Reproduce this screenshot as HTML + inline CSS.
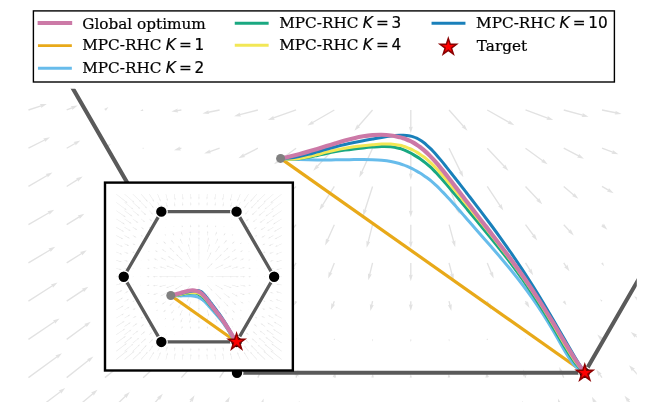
<!DOCTYPE html><html><head><meta charset="utf-8"><title>MPC-RHC trajectories</title><style>html,body{margin:0;padding:0;background:#fff}svg{display:block}text{font-family:"DejaVu Serif","Liberation Serif",serif;font-size:15.28px;fill:#000;stroke:#000;stroke-width:.22px}.m{font-family:"DejaVu Sans","Liberation Sans",sans-serif}.i{font-family:"DejaVu Sans","Liberation Sans",sans-serif;font-style:oblique}</style></head><body>
<svg width="648" height="413" viewBox="0 0 648 413">
<rect width="648" height="413" fill="#fff"/>
<defs><clipPath id="cm"><rect x="28.00" y="88.80" width="608.80" height="313.20"/></clipPath><clipPath id="ci"><rect x="105.00" y="182.60" width="187.85" height="187.90"/></clipPath></defs>
<g clip-path="url(#cm)">
<path d="M28.23 109.35L40.86 105.16L39.80 104.09L46.84 103.89L41.07 107.93L41.29 106.44L28.65 110.63ZM28.13 147.62L44.32 139.38L43.11 138.48L50.04 137.22L44.94 142.09L44.93 140.58L28.75 148.82ZM28.10 185.87L46.85 174.94L45.59 174.11L52.44 172.46L47.63 177.61L47.53 176.10L28.78 187.04ZM28.10 224.11L48.65 212.16L47.39 211.34L54.24 209.69L49.42 214.84L49.33 213.33L28.78 225.28ZM28.09 262.35L49.68 249.38L48.41 248.57L55.24 246.83L50.50 252.04L50.38 250.54L28.79 263.51ZM28.08 300.60L52.06 285.18L50.77 284.41L57.54 282.47L52.96 287.82L52.79 286.32L28.80 301.73ZM28.06 338.84L54.13 321.24L52.81 320.50L59.54 318.40L55.08 323.86L54.88 322.36L28.82 339.96ZM28.04 377.09L56.63 356.27L55.29 355.58L61.94 353.24L57.68 358.85L57.43 357.36L28.84 378.18ZM28.03 415.34L59.99 391.20L58.63 390.53L65.24 388.07L61.07 393.76L60.80 392.27L28.85 416.41ZM66.42 109.36L71.80 107.16L70.66 106.17L77.68 105.49L72.20 109.92L72.31 108.41L66.93 110.61ZM66.35 147.63L74.75 142.91L73.50 142.06L80.38 140.52L75.48 145.59L75.41 144.09L67.01 148.81ZM66.32 185.89L77.17 179.11L75.88 178.32L82.68 176.46L78.03 181.75L77.88 180.25L67.03 187.03ZM66.32 224.12L78.86 216.33L77.57 215.54L84.38 213.69L79.71 218.98L79.57 217.47L67.03 225.27ZM66.32 262.36L81.28 252.90L79.99 252.12L86.78 250.23L82.15 255.55L82.00 254.05L67.04 263.50ZM66.30 300.60L82.94 289.56L81.63 288.81L88.38 286.77L83.87 292.19L83.69 290.69L67.05 301.73ZM66.28 338.86L85.48 324.75L84.14 324.07L90.78 321.70L86.53 327.33L86.28 325.84L67.08 339.95ZM66.26 377.11L88.19 359.78L86.82 359.13L93.38 356.54L89.34 362.31L89.03 360.83L67.09 378.17ZM66.24 415.36L92.40 393.19L91.02 392.59L97.48 389.77L93.64 395.68L93.28 394.22L67.11 416.39ZM104.61 109.64L104.96 109.34L104.01 108.94L108.41 106.99L105.81 111.04L105.56 110.04L105.21 110.34ZM104.51 147.68L105.65 146.83L104.30 146.15L110.91 143.72L106.73 149.39L106.46 147.91L105.32 148.76ZM104.63 185.84L106.66 184.93L105.49 183.98L112.47 183.04L107.16 187.67L107.22 186.16L105.19 187.07ZM104.60 224.10L109.35 221.57L108.12 220.69L115.03 219.31L110.02 224.27L109.98 222.76L105.23 225.29ZM104.56 262.35L112.33 257.66L111.06 256.85L117.88 255.09L113.15 260.32L113.03 258.81L105.26 263.51ZM104.54 300.61L115.59 293.17L114.28 292.42L121.01 290.34L116.54 295.78L116.34 294.29L105.29 301.73ZM104.51 338.86L119.02 328.14L117.67 327.45L124.30 325.07L120.08 330.71L119.82 329.22L105.31 339.94ZM104.49 377.11L122.52 362.60L121.15 361.97L127.68 359.31L123.69 365.12L123.37 363.65L105.34 378.16ZM104.45 415.39L124.95 395.78L123.53 395.27L129.81 392.07L126.33 398.20L125.89 396.76L105.38 416.36ZM143.25 110.29L142.95 110.39L143.45 110.89L140.15 110.99L142.85 109.09L142.75 109.79L143.05 109.69ZM143.82 148.22L143.49 148.81L142.81 148.81L142.47 148.22L142.81 147.64L143.49 147.64ZM143.08 186.32L143.22 186.26L142.95 186.05L144.50 185.80L143.34 186.86L143.35 186.53L143.21 186.59ZM142.92 224.30L143.31 224.08L142.48 223.53L147.04 222.46L143.82 225.86L143.76 224.86L143.37 225.08ZM142.78 262.37L145.02 260.89L143.72 260.14L150.47 258.13L145.94 263.52L145.76 262.02L143.52 263.49ZM142.75 300.62L148.77 296.20L147.43 295.51L154.07 293.15L149.82 298.78L149.57 297.29L143.55 301.71ZM142.72 338.88L152.47 330.95L151.10 330.32L157.61 327.64L153.65 333.47L153.33 331.99L143.57 339.93ZM142.70 377.14L156.11 365.07L154.70 364.52L161.07 361.51L157.41 367.53L157.01 366.08L143.60 378.14ZM142.64 415.42L158.30 397.86L156.84 397.47L162.85 393.77L159.87 400.16L159.31 398.76L143.65 416.32ZM181.48 110.65L177.49 111.25L178.36 112.49L171.38 111.49L177.76 108.48L177.29 109.92L181.28 109.32ZM181.56 148.87L180.02 149.29L181.03 150.42L173.98 150.22L179.97 146.51L179.67 147.99L181.21 147.57ZM181.60 186.87L181.19 187.09L182.04 187.70L177.24 188.65L180.73 185.21L180.75 186.26L181.17 186.04ZM182.06 224.69L181.72 225.28L181.05 225.28L180.71 224.69L181.05 224.11L181.72 224.11ZM181.22 262.71L181.44 262.54L180.90 262.26L183.62 261.30L181.87 263.60L181.77 262.99L181.55 263.15ZM180.95 300.65L182.31 299.53L180.93 298.91L187.42 296.17L183.51 302.04L183.17 300.57L181.81 301.69ZM180.92 338.91L186.37 333.80L184.96 333.28L191.26 330.13L187.73 336.23L187.30 334.78L181.85 339.89ZM180.89 377.18L189.94 367.40L188.49 366.98L194.56 363.40L191.46 369.73L190.93 368.32L181.88 378.10ZM180.82 415.51L190.73 400.12L189.23 399.95L194.58 395.37L192.63 402.15L191.86 400.85L181.95 416.24ZM219.75 110.65L208.51 112.94L209.44 114.12L202.42 113.49L208.63 110.16L208.24 111.61L219.49 109.32ZM219.84 148.86L210.09 152.20L211.16 153.25L204.12 153.52L209.85 149.42L209.65 150.92L219.40 147.58ZM219.96 187.04L215.50 189.69L216.77 190.50L209.93 192.20L214.70 187.02L214.81 188.52L219.28 185.88ZM220.01 225.24L219.28 225.77L220.62 226.47L213.96 228.77L218.25 223.18L218.49 224.67L219.23 224.15ZM219.75 263.09L219.60 263.22L220.02 263.40L218.07 264.25L219.22 262.46L219.33 262.91L219.49 262.77ZM219.42 300.97L219.62 300.77L219.03 300.58L221.58 299.21L220.21 301.75L220.01 301.17L219.82 301.36ZM219.10 338.97L220.83 336.91L219.36 336.56L225.24 332.69L222.46 339.16L221.86 337.78L220.14 339.84ZM219.06 377.26L224.15 369.74L222.65 369.54L228.11 365.09L226.01 371.81L225.27 370.50L220.18 378.02ZM219.02 415.56L226.30 401.83L224.79 401.80L229.74 396.78L228.37 403.69L227.49 402.46L220.22 416.19ZM258.03 110.64L240.10 115.31L241.10 116.44L234.06 116.19L240.08 112.52L239.76 114.00L257.69 109.33ZM258.16 148.82L244.07 156.05L245.29 156.94L238.36 158.22L243.44 153.34L243.45 154.85L257.55 147.62ZM258.24 187.01L248.89 193.57L250.22 194.29L243.53 196.50L247.89 190.97L248.11 192.46L257.47 185.91ZM258.30 225.20L253.42 229.49L254.82 230.06L248.41 233.00L252.15 227.02L252.53 228.48L257.41 224.19ZM258.35 263.39L257.74 264.05L259.19 264.47L253.13 268.06L256.21 261.73L256.75 263.14L257.36 262.47ZM258.53 301.17L258.19 301.75L257.52 301.75L257.18 301.17L257.52 300.58L258.19 300.58ZM257.47 339.18L257.69 338.79L256.68 338.74L260.07 335.49L259.03 340.07L258.47 339.23L258.25 339.62ZM257.24 377.37L259.37 372.43L257.87 372.51L262.41 367.12L261.58 374.12L260.61 372.96L258.48 377.91ZM257.22 415.66L261.09 404.10L259.59 404.31L263.66 398.55L263.43 405.60L262.37 404.53L258.50 416.09ZM296.32 110.62L273.74 118.60L274.83 119.65L267.79 119.99L273.48 115.83L273.30 117.33L295.87 109.35ZM296.49 148.77L279.30 161.29L280.64 161.98L273.99 164.32L278.26 158.71L278.50 160.20L295.69 147.68ZM296.55 186.95L284.53 198.03L285.94 198.57L279.60 201.65L283.19 195.59L283.61 197.04L295.63 185.96ZM296.62 225.12L289.40 233.98L290.87 234.31L285.04 238.26L287.73 231.75L288.35 233.13L295.57 224.27ZM296.67 263.28L293.96 267.71L295.46 267.84L290.21 272.54L292.01 265.73L292.81 267.01L295.52 262.58ZM296.52 301.36L296.32 301.79L297.37 301.75L294.15 305.43L294.81 300.58L295.47 301.40L295.67 300.97ZM295.95 339.35L296.00 339.21L295.67 339.26L296.58 337.98L296.52 339.55L296.28 339.31L296.23 339.45ZM295.44 377.47L296.01 375.32L294.53 375.62L298.21 369.62L298.45 376.66L297.31 375.66L296.74 377.81ZM295.43 415.73L297.42 406.47L295.96 406.84L299.35 400.67L299.92 407.69L298.74 406.75L296.75 416.02ZM334.67 110.57L313.02 123.12L314.28 123.95L307.43 125.59L312.25 120.45L312.34 121.95L333.99 109.40ZM334.82 148.68L317.88 166.75L319.32 167.18L313.23 170.72L316.37 164.41L316.89 165.83L333.84 147.76ZM334.90 186.82L323.14 205.48L324.64 205.63L319.33 210.26L321.21 203.47L322.00 204.76L333.76 186.10ZM334.94 224.97L328.21 240.12L329.72 240.05L325.13 245.39L326.02 238.40L326.98 239.57L333.71 224.42ZM334.96 263.18L331.00 273.13L332.50 273.01L328.13 278.53L328.74 271.51L329.74 272.64L333.70 262.68ZM334.96 301.41L333.68 304.66L335.18 304.53L330.83 310.07L331.41 303.04L332.42 304.17L333.70 300.92ZM335.00 339.40L334.67 339.99L333.99 339.99L333.65 339.40L333.99 338.82L334.67 338.82ZM333.74 377.55L333.83 376.96L332.57 377.36L335.25 371.77L336.09 377.91L335.01 377.14L334.92 377.73ZM333.66 415.79L334.64 408.38L333.21 408.87L336.11 402.45L337.23 409.40L335.98 408.56L335.00 415.96ZM373.07 110.43L358.87 126.66L360.33 127.04L354.36 130.79L357.28 124.37L357.86 125.77L372.06 109.54ZM373.18 148.50L362.39 172.27L363.90 172.21L359.26 177.52L360.21 170.54L361.16 171.71L371.95 147.94ZM373.21 186.66L365.57 210.38L367.06 210.15L363.06 215.96L363.21 208.91L364.28 209.97L371.92 186.25ZM373.22 224.86L368.83 241.98L370.30 241.66L366.66 247.69L366.38 240.65L367.52 241.64L371.91 224.53ZM373.22 263.09L370.38 274.50L371.86 274.17L368.26 280.23L367.93 273.19L369.07 274.17L371.91 262.77ZM373.22 301.31L372.34 305.28L373.81 304.92L370.36 311.07L369.85 304.04L371.02 304.99L371.91 301.02ZM372.77 339.42L372.75 339.62L373.17 339.46L372.38 341.43L371.96 339.35L372.34 339.59L372.36 339.38ZM372.12 377.60L372.15 377.16L371.22 377.54L372.90 373.16L373.91 377.74L373.05 377.22L373.01 377.67ZM371.89 415.83L372.29 409.60L370.90 410.19L373.36 403.58L374.94 410.45L373.64 409.69L373.24 415.92ZM411.48 109.99L411.48 127.21L412.82 126.54L410.80 133.29L408.78 126.54L410.12 127.21L410.12 109.99ZM411.48 148.22L411.48 173.95L412.82 173.27L410.80 180.02L408.78 173.27L410.12 173.95L410.12 148.22ZM411.48 186.46L411.48 211.18L412.82 210.51L410.80 217.26L408.78 210.51L410.12 211.18L410.12 186.46ZM411.48 224.69L411.48 241.92L412.82 241.24L410.80 247.99L408.78 241.24L410.12 241.92L410.12 224.69ZM411.48 262.93L411.48 275.15L412.82 274.48L410.80 281.23L408.78 274.48L410.12 275.15L410.12 262.93ZM411.48 301.17L411.48 304.99L412.82 304.32L410.80 311.07L408.78 304.32L410.12 304.99L410.12 301.17ZM411.05 339.40L411.05 339.65L411.55 339.40L410.80 341.90L410.05 339.40L410.55 339.65L410.55 339.40ZM410.40 377.64L410.40 377.24L409.60 377.64L410.80 373.64L412.00 377.64L411.20 377.24L411.20 377.64ZM410.12 415.87L410.12 410.05L408.78 410.72L410.80 403.97L412.82 410.72L411.48 410.05L411.48 415.87ZM449.54 109.54L463.92 125.79L464.48 124.39L467.44 130.79L461.45 127.07L462.91 126.68L448.53 110.43ZM449.64 147.92L461.26 171.57L462.18 170.37L463.34 177.32L458.54 172.16L460.05 172.17L448.43 148.52ZM449.67 186.22L458.03 208.53L459.06 207.43L459.54 214.46L455.27 208.85L456.77 209.01L448.40 186.70ZM449.69 224.52L454.28 241.26L455.40 240.25L455.24 247.29L451.50 241.32L452.98 241.61L448.39 224.87ZM449.69 262.76L452.66 274.18L453.80 273.19L453.54 280.23L449.88 274.21L451.35 274.52L448.38 263.10ZM449.69 301.01L450.62 305.00L451.78 304.03L451.34 311.07L447.84 304.95L449.30 305.30L448.38 301.32ZM449.24 339.38L449.26 339.59L449.64 339.35L449.22 341.43L448.43 339.46L448.85 339.62L448.83 339.42ZM448.59 377.67L448.55 377.22L447.69 377.74L448.70 373.16L450.38 377.54L449.45 377.16L449.48 377.60ZM448.36 415.92L447.96 409.69L446.66 410.45L448.24 403.58L450.70 410.19L449.31 409.60L449.71 415.83ZM487.60 109.40L509.41 121.71L509.49 120.20L514.37 125.29L507.50 123.73L508.75 122.89L486.94 110.57ZM487.76 147.76L504.71 165.83L505.23 164.41L508.37 170.72L502.28 167.18L503.72 166.75L486.78 148.68ZM487.83 186.08L500.56 205.13L501.31 203.82L503.37 210.56L497.94 206.07L499.44 205.88L486.71 186.83ZM487.89 224.41L494.85 239.59L495.80 238.41L496.77 245.39L492.12 240.10L493.62 240.15L486.66 224.98ZM487.90 262.67L491.99 272.65L492.98 271.52L493.67 278.53L489.24 273.05L490.74 273.17L486.65 263.19ZM487.89 300.90L489.31 304.21L490.28 303.06L491.07 310.07L486.56 304.65L488.07 304.74L486.65 301.43ZM487.95 339.40L487.61 339.99L486.93 339.99L486.60 339.40L486.93 338.82L487.61 338.82ZM486.68 377.73L486.59 377.14L485.51 377.91L486.35 371.77L489.03 377.36L487.77 376.96L487.86 377.55ZM486.60 415.96L485.62 408.56L484.37 409.40L485.49 402.45L488.39 408.87L486.96 408.38L487.94 415.79ZM525.74 109.35L547.83 117.38L547.66 115.88L553.31 120.09L546.27 119.68L547.37 118.65L525.28 110.62ZM525.91 147.68L543.10 160.20L543.34 158.71L547.61 164.32L540.96 161.98L542.30 161.29L525.11 148.77ZM526.00 185.99L538.53 199.28L539.05 197.86L542.21 204.16L536.10 200.64L537.55 200.20L525.02 186.92ZM526.05 224.29L534.12 235.12L534.80 233.77L537.21 240.39L531.55 236.19L533.04 235.93L524.97 225.10ZM526.08 262.57L530.58 269.81L531.37 268.53L533.21 275.33L527.93 270.66L529.43 270.53L524.93 263.29ZM526.09 300.83L527.05 302.47L527.87 301.21L529.51 308.07L524.37 303.24L525.88 303.15L524.92 301.50ZM525.37 339.45L525.32 339.31L525.08 339.55L525.02 337.98L525.93 339.26L525.60 339.21L525.65 339.35ZM524.86 377.81L524.29 375.66L523.15 376.66L523.39 369.62L527.07 375.62L525.59 375.32L526.16 377.47ZM524.85 416.02L522.86 406.75L521.68 407.69L522.25 400.67L525.64 406.84L524.18 406.47L526.17 415.73ZM563.92 109.33L582.86 114.45L582.56 112.97L588.54 116.69L581.50 116.88L582.50 115.75L563.57 110.64ZM564.06 147.62L578.87 155.32L578.89 153.81L583.94 158.72L577.02 157.41L578.24 156.52L563.43 148.82ZM564.18 185.94L574.15 194.41L574.51 192.94L578.34 198.86L571.89 196.03L573.28 195.44L563.31 186.97ZM564.24 224.23L570.09 230.49L570.61 229.08L573.74 235.39L567.66 231.85L569.10 231.42L563.25 225.15ZM564.30 262.55L566.59 265.92L567.33 264.61L569.44 271.33L563.98 266.88L565.47 266.68L563.19 263.31ZM564.14 300.90L564.41 301.30L564.94 300.36L566.44 305.17L562.54 301.98L563.61 301.84L563.34 301.44ZM563.35 339.62L563.13 339.23L562.57 340.07L561.53 335.49L564.92 338.74L563.91 338.79L564.13 339.18ZM563.12 377.91L560.99 372.96L560.02 374.12L559.19 367.12L563.73 372.51L562.23 372.43L564.36 377.37ZM563.10 416.09L559.23 404.53L558.17 405.60L557.94 398.55L562.01 404.31L560.51 404.10L564.38 415.66ZM602.11 109.32L615.76 112.11L615.37 110.65L621.58 113.99L614.56 114.62L615.49 113.43L601.85 110.65ZM602.21 147.59L612.91 151.50L612.74 150.00L618.38 154.22L611.35 153.80L612.44 152.77L601.75 148.86ZM602.32 185.87L608.74 189.55L608.83 188.05L613.68 193.16L606.82 191.56L608.07 190.72L601.64 187.04ZM602.44 224.20L603.38 225.07L603.80 223.62L607.38 229.69L601.05 226.59L602.46 226.06L601.52 225.19ZM602.31 262.73L602.51 263.06L602.97 262.33L603.98 266.23L600.99 263.53L601.85 263.46L601.65 263.13ZM601.78 301.36L601.59 301.17L601.39 301.75L600.02 299.21L602.57 300.58L601.98 300.77L602.18 300.97ZM601.50 339.87L601.03 339.39L600.54 340.81L597.28 334.60L603.42 337.99L601.99 338.45L602.46 338.93ZM601.43 378.02L599.19 374.81L598.47 376.14L596.28 369.44L601.80 373.82L600.30 374.04L602.53 377.25ZM601.38 416.19L594.11 402.46L593.23 403.69L591.86 396.78L596.81 401.80L595.30 401.83L602.58 415.56ZM640.37 109.33L643.59 110.09L643.24 108.62L649.34 112.14L642.31 112.56L643.28 111.40L640.06 110.64ZM640.47 147.60L641.85 148.16L641.73 146.65L647.23 151.07L640.21 150.41L641.34 149.41L639.96 148.85ZM640.43 186.04L640.85 186.26L640.87 185.21L644.36 188.65L639.56 187.70L640.41 187.09L640.00 186.87ZM640.89 224.69L640.55 225.28L639.88 225.28L639.54 224.69L639.88 224.11L640.55 224.11ZM640.05 263.15L639.83 262.99L639.73 263.60L637.98 261.30L640.70 262.26L640.16 262.54L640.38 262.71ZM639.79 301.69L638.43 300.57L638.09 302.04L634.18 296.17L640.67 298.91L639.29 299.53L640.65 300.65ZM639.80 339.93L635.07 336.20L634.76 337.67L630.72 331.90L637.27 334.50L635.90 335.14L640.63 338.87ZM639.71 378.09L632.57 370.11L632.01 371.52L629.02 365.14L635.03 368.81L633.57 369.21L640.72 377.19ZM639.68 416.29L627.73 400.97L627.08 402.33L624.53 395.76L630.28 399.84L628.80 400.14L640.75 415.46Z" fill="#e2e2e2"/>
<path d="M758.40 71.75L584.60 372.78L237.00 372.78L63.20 71.75L237.00 -229.28L584.60 -229.28Z" fill="none" stroke="#5a5a5a" stroke-width="4.1" stroke-linejoin="round"/>
<circle cx="584.60" cy="372.78" r="5.85" fill="#000" stroke="#fff" stroke-width="1.3"/>
<circle cx="237.00" cy="372.78" r="5.85" fill="#000" stroke="#fff" stroke-width="1.3"/>
<circle cx="63.20" cy="71.75" r="5.85" fill="#000" stroke="#fff" stroke-width="1.3"/>
<path d="M280.60 158.40L584.80 373.00" fill="none" stroke="#e8a919" stroke-width="3.20" stroke-linecap="butt" stroke-linejoin="round"/>
<path d="M280.60 158.40C282.13 158.51 286.72 158.87 289.78 159.06C292.85 159.24 295.91 159.39 298.97 159.51C302.03 159.63 305.09 159.72 308.15 159.79C311.22 159.86 314.28 159.89 317.34 159.92C320.40 159.94 323.46 159.94 326.52 159.92C329.58 159.91 332.65 159.87 335.71 159.83C338.77 159.80 341.83 159.74 344.89 159.70C347.95 159.66 351.02 159.62 354.08 159.60C357.14 159.59 360.20 159.58 363.26 159.61C366.32 159.64 369.38 159.68 372.45 159.80C375.51 159.91 378.57 160.02 381.63 160.30C384.69 160.58 387.75 160.90 390.82 161.47C393.88 162.04 397.91 163.15 400.00 163.71C402.09 164.28 402.22 164.45 403.33 164.86C404.44 165.27 405.56 165.71 406.67 166.17C407.78 166.64 408.89 167.13 410.00 167.65C411.11 168.17 412.22 168.72 413.33 169.29C414.44 169.86 415.56 170.45 416.67 171.07C417.78 171.69 418.89 172.34 420.00 173.02C421.11 173.69 422.22 174.40 423.33 175.14C424.44 175.88 425.56 176.66 426.67 177.47C427.78 178.29 428.89 179.14 430.00 180.03C431.11 180.93 432.22 181.87 433.33 182.85C434.44 183.83 435.56 184.86 436.67 185.91C437.78 186.97 438.89 188.07 440.00 189.19C441.11 190.31 442.22 191.46 443.33 192.63C444.44 193.80 445.56 195.00 446.67 196.20C447.78 197.41 448.89 198.63 450.00 199.86C451.11 201.09 452.22 202.32 453.33 203.57C454.44 204.81 455.56 206.06 456.67 207.31C457.78 208.56 458.89 209.82 460.00 211.09C461.11 212.35 462.22 213.61 463.33 214.88C464.44 216.15 465.56 217.42 466.67 218.69C467.78 219.96 467.71 219.89 470.00 222.51C472.29 225.13 476.96 230.44 480.44 234.41C483.92 238.38 487.39 242.30 490.87 246.30C494.35 250.31 497.83 254.31 501.31 258.43C504.79 262.55 508.27 266.70 511.75 271.02C515.22 275.33 518.70 279.72 522.18 284.32C525.66 288.91 529.14 293.62 532.62 298.58C536.10 303.55 539.58 308.68 543.05 314.11C546.53 319.54 550.01 325.28 553.49 331.19C556.97 337.09 560.45 343.86 563.93 349.53C567.41 355.21 570.88 361.32 574.36 365.23C577.84 369.15 583.06 371.71 584.80 373.00" fill="none" stroke="#67bceb" stroke-width="3.00" stroke-linecap="butt" stroke-linejoin="round"/>
<path d="M280.60 158.40C282.13 158.53 286.72 159.14 289.78 159.19C292.85 159.24 295.91 159.02 298.97 158.71C302.03 158.40 305.09 157.88 308.15 157.34C311.22 156.79 314.28 156.10 317.34 155.45C320.40 154.79 323.46 154.05 326.52 153.41C329.58 152.77 332.65 152.15 335.71 151.59C338.77 151.04 341.83 150.56 344.89 150.11C347.95 149.66 351.02 149.27 354.08 148.90C357.14 148.53 360.20 148.21 363.26 147.90C366.32 147.59 369.38 147.30 372.45 147.06C375.51 146.81 378.57 146.51 381.63 146.45C384.69 146.39 387.75 146.35 390.82 146.70C393.88 147.05 397.91 148.04 400.00 148.54C402.09 149.04 402.22 149.28 403.33 149.71C404.44 150.14 405.56 150.61 406.67 151.12C407.78 151.63 408.89 152.18 410.00 152.75C411.11 153.33 412.22 153.95 413.33 154.59C414.44 155.23 415.56 155.91 416.67 156.61C417.78 157.31 418.89 158.04 420.00 158.80C421.11 159.57 422.22 160.37 423.33 161.20C424.44 162.04 425.56 162.91 426.67 163.83C427.78 164.75 428.89 165.70 430.00 166.71C431.11 167.71 432.22 168.76 433.33 169.86C434.44 170.95 435.56 172.10 436.67 173.28C437.78 174.45 438.89 175.67 440.00 176.91C441.11 178.15 442.22 179.43 443.33 180.71C444.44 182.00 445.56 183.31 446.67 184.63C447.78 185.94 448.89 187.28 450.00 188.61C451.11 189.93 452.22 191.27 453.33 192.60C454.44 193.93 455.56 195.27 456.67 196.61C457.78 197.94 458.89 199.28 460.00 200.62C461.11 201.95 462.22 203.29 463.33 204.63C464.44 205.97 465.56 207.31 466.67 208.65C467.78 209.99 467.71 209.90 470.00 212.67C472.29 215.44 476.96 221.05 480.44 225.26C483.92 229.47 487.39 233.67 490.87 237.95C494.35 242.24 497.83 246.54 501.31 250.98C504.79 255.41 508.27 259.90 511.75 264.56C515.22 269.22 518.70 273.98 522.18 278.93C525.66 283.88 529.14 288.98 532.62 294.25C536.10 299.52 539.58 304.95 543.05 310.54C546.53 316.13 550.01 321.93 553.49 327.78C556.97 333.63 560.45 339.98 563.93 345.64C567.41 351.31 570.88 357.21 574.36 361.76C577.84 366.32 583.06 371.13 584.80 373.00" fill="none" stroke="#19a881" stroke-width="3.00" stroke-linecap="butt" stroke-linejoin="round"/>
<path d="M280.60 158.40C282.13 158.54 286.72 159.21 289.78 159.24C292.85 159.27 295.91 158.97 298.97 158.58C302.03 158.18 305.09 157.54 308.15 156.87C311.22 156.20 314.28 155.36 317.34 154.57C320.40 153.78 323.46 152.89 326.52 152.13C329.58 151.36 332.65 150.62 335.71 149.97C338.77 149.32 341.83 148.76 344.89 148.24C347.95 147.72 351.02 147.27 354.08 146.85C357.14 146.43 360.20 146.07 363.26 145.73C366.32 145.38 369.38 145.06 372.45 144.79C375.51 144.51 378.57 144.20 381.63 144.08C384.69 143.96 387.75 143.86 390.82 144.07C393.88 144.28 397.91 144.98 400.00 145.33C402.09 145.69 402.22 145.87 403.33 146.20C404.44 146.53 405.56 146.89 406.67 147.30C407.78 147.71 408.89 148.16 410.00 148.65C411.11 149.14 412.22 149.67 413.33 150.24C414.44 150.81 415.56 151.43 416.67 152.09C417.78 152.75 418.89 153.45 420.00 154.20C421.11 154.94 422.22 155.73 423.33 156.57C424.44 157.41 425.56 158.29 426.67 159.21C427.78 160.14 428.89 161.11 430.00 162.13C431.11 163.15 432.22 164.22 433.33 165.32C434.44 166.43 435.56 167.59 436.67 168.78C437.78 169.96 438.89 171.19 440.00 172.44C441.11 173.69 442.22 174.98 443.33 176.27C444.44 177.57 445.56 178.89 446.67 180.22C447.78 181.54 448.89 182.89 450.00 184.23C451.11 185.57 452.22 186.92 453.33 188.26C454.44 189.61 455.56 190.96 456.67 192.32C457.78 193.67 458.89 195.02 460.00 196.38C461.11 197.74 462.22 199.10 463.33 200.46C464.44 201.82 465.56 203.19 466.67 204.55C467.78 205.92 467.71 205.82 470.00 208.66C472.29 211.49 476.96 217.23 480.44 221.56C483.92 225.88 487.39 230.21 490.87 234.62C494.35 239.02 497.83 243.46 501.31 248.00C504.79 252.54 508.27 257.13 511.75 261.86C515.22 266.59 518.70 271.41 522.18 276.38C525.66 281.35 529.14 286.43 532.62 291.69C536.10 296.94 539.58 302.33 543.05 307.91C546.53 313.49 550.01 319.27 553.49 325.15C556.97 331.03 560.45 337.39 563.93 343.22C567.41 349.04 570.88 355.11 574.36 360.08C577.84 365.04 583.06 370.85 584.80 373.00" fill="none" stroke="#f2e755" stroke-width="3.00" stroke-linecap="butt" stroke-linejoin="round"/>
<path d="M280.60 158.40C282.13 158.33 286.72 158.27 289.78 157.96C292.85 157.64 295.91 157.11 298.97 156.52C302.03 155.92 305.09 155.16 308.15 154.38C311.22 153.60 314.28 152.70 317.34 151.84C320.40 150.97 323.46 150.04 326.52 149.19C329.58 148.34 332.65 147.50 335.71 146.73C338.77 145.95 341.83 145.22 344.89 144.53C347.95 143.83 351.02 143.18 354.08 142.55C357.14 141.92 360.20 141.32 363.26 140.73C366.32 140.15 369.38 139.58 372.45 139.03C375.51 138.48 378.57 137.91 381.63 137.43C384.69 136.95 387.75 136.48 390.82 136.13C393.88 135.79 397.91 135.50 400.00 135.37C402.09 135.23 402.22 135.29 403.33 135.31C404.44 135.33 405.56 135.37 406.67 135.48C407.78 135.59 408.89 135.73 410.00 135.96C411.11 136.18 412.22 136.46 413.33 136.83C414.44 137.20 415.56 137.64 416.67 138.17C417.78 138.70 418.89 139.32 420.00 140.01C421.11 140.70 422.22 141.47 423.33 142.30C424.44 143.14 425.56 144.05 426.67 145.01C427.78 145.97 428.89 147.00 430.00 148.09C431.11 149.17 432.22 150.31 433.33 151.49C434.44 152.67 435.56 153.91 436.67 155.18C437.78 156.44 438.89 157.76 440.00 159.09C441.11 160.42 442.22 161.79 443.33 163.17C444.44 164.55 445.56 165.96 446.67 167.36C447.78 168.77 448.89 170.19 450.00 171.61C451.11 173.03 452.22 174.45 453.33 175.87C454.44 177.29 455.56 178.71 456.67 180.13C457.78 181.55 458.89 182.98 460.00 184.40C461.11 185.82 462.22 187.25 463.33 188.68C464.44 190.10 465.56 191.53 466.67 192.96C467.78 194.39 467.71 194.28 470.00 197.27C472.29 200.25 476.96 206.28 480.44 210.87C483.92 215.45 487.39 220.05 490.87 224.75C494.35 229.45 497.83 234.19 501.31 239.05C504.79 243.91 508.27 248.83 511.75 253.89C515.22 258.95 518.70 264.11 522.18 269.40C525.66 274.70 529.14 280.12 532.62 285.65C536.10 291.19 539.58 296.85 543.05 302.60C546.53 308.36 550.01 314.24 553.49 320.18C556.97 326.13 560.45 332.26 563.93 338.26C567.41 344.25 570.88 350.36 574.36 356.15C577.84 361.94 583.06 370.19 584.80 373.00" fill="none" stroke="#1980ba" stroke-width="3.00" stroke-linecap="butt" stroke-linejoin="round"/>
<path d="M280.60 158.40C282.13 158.07 286.72 157.15 289.78 156.44C292.85 155.73 295.91 154.95 298.97 154.15C302.03 153.35 305.09 152.49 308.15 151.62C311.22 150.74 314.28 149.83 317.34 148.91C320.40 147.99 323.46 147.04 326.52 146.10C329.58 145.16 332.65 144.20 335.71 143.28C338.77 142.36 341.83 141.43 344.89 140.58C347.95 139.73 351.02 138.91 354.08 138.20C357.14 137.48 360.20 136.83 363.26 136.31C366.32 135.80 369.38 135.37 372.45 135.12C375.51 134.87 378.57 134.73 381.63 134.79C384.69 134.85 387.75 135.06 390.82 135.48C393.88 135.89 397.91 136.83 400.00 137.30C402.09 137.77 402.22 137.92 403.33 138.29C404.44 138.65 405.56 139.05 406.67 139.49C407.78 139.93 408.89 140.41 410.00 140.93C411.11 141.46 412.22 142.03 413.33 142.66C414.44 143.28 415.56 143.96 416.67 144.69C417.78 145.42 418.89 146.20 420.00 147.03C421.11 147.87 422.22 148.75 423.33 149.69C424.44 150.62 425.56 151.61 426.67 152.64C427.78 153.67 428.89 154.74 430.00 155.87C431.11 156.99 432.22 158.16 433.33 159.37C434.44 160.57 435.56 161.83 436.67 163.11C437.78 164.39 438.89 165.71 440.00 167.05C441.11 168.40 442.22 169.77 443.33 171.16C444.44 172.55 445.56 173.96 446.67 175.38C447.78 176.80 448.89 178.24 450.00 179.67C451.11 181.11 452.22 182.56 453.33 184.00C454.44 185.45 455.56 186.90 456.67 188.36C457.78 189.81 458.89 191.27 460.00 192.72C461.11 194.18 462.22 195.64 463.33 197.10C464.44 198.56 465.56 200.02 466.67 201.47C467.78 202.93 467.71 202.85 470.00 205.84C472.29 208.83 476.96 214.91 480.44 219.42C483.92 223.92 487.39 228.37 490.87 232.88C494.35 237.39 497.83 241.89 501.31 246.48C504.79 251.07 508.27 255.69 511.75 260.44C515.22 265.20 518.70 270.03 522.18 275.01C525.66 280.00 529.14 285.11 532.62 290.36C536.10 295.61 539.58 300.99 543.05 306.51C546.53 312.02 550.01 317.69 553.49 323.44C556.97 329.19 560.45 335.24 563.93 341.01C567.41 346.77 570.88 352.71 574.36 358.04C577.84 363.37 583.06 370.51 584.80 373.00" fill="none" stroke="#CC79A7" stroke-width="4.17" stroke-linecap="butt" stroke-linejoin="round"/>
<circle cx="280.60" cy="158.40" r="4.5" fill="#808080"/>
<path d="M584.80 364.40L586.73 370.34L592.98 370.34L587.92 374.02L589.85 379.96L584.80 376.28L579.75 379.96L581.68 374.02L576.62 370.34L582.87 370.34Z" fill="#ff0000" stroke="#8b0000" stroke-width="1.5" stroke-miterlimit="10"/>
</g>
<rect x="105.00" y="182.60" width="187.85" height="187.90" fill="#fff"/>
<g clip-path="url(#ci)">
<path d="M116.39 193.88L126.06 201.58L126.17 201.04L127.66 203.18L125.24 202.21L125.74 201.98L116.07 194.28ZM116.38 202.15L125.09 208.66L125.19 208.11L126.74 210.20L124.29 209.31L124.79 209.06L116.08 202.55ZM116.37 210.42L124.14 215.83L124.22 215.27L125.84 217.32L123.36 216.51L123.85 216.24L116.09 210.83ZM116.37 218.69L123.23 223.11L123.29 222.55L124.98 224.54L122.47 223.81L122.96 223.53L116.09 219.11ZM116.36 226.95L122.37 230.50L122.41 229.94L124.18 231.86L121.65 231.23L122.12 230.93L116.10 227.38ZM116.35 235.22L121.59 238.01L121.60 237.45L123.45 239.29L120.89 238.78L121.35 238.45L116.11 235.66ZM116.34 243.49L120.90 245.65L120.89 245.09L122.83 246.83L120.24 246.44L120.68 246.10L116.12 243.94ZM116.32 251.75L120.34 253.39L120.29 252.83L122.32 254.47L119.73 254.22L120.15 253.85L116.14 252.22ZM116.31 260.02L119.93 261.19L119.84 260.64L121.99 262.12L119.38 262.07L119.77 261.67L116.15 260.49ZM116.28 268.28L119.70 268.95L119.55 268.41L121.86 269.63L119.26 269.89L119.60 269.44L116.18 268.77ZM116.23 276.55L119.61 276.55L119.36 276.05L121.86 276.80L119.36 277.55L119.61 277.05L116.23 277.05ZM116.15 284.83L119.35 283.77L118.96 283.38L121.57 283.30L119.43 284.80L119.51 284.25L116.31 285.31ZM116.12 293.12L120.38 290.95L119.93 290.62L122.49 290.15L120.61 291.96L120.60 291.40L116.34 293.57ZM116.10 301.40L121.12 298.47L120.65 298.17L123.19 297.56L121.41 299.46L121.37 298.91L116.36 301.83ZM116.10 309.67L121.64 306.45L121.17 306.15L123.71 305.54L121.93 307.44L121.89 306.89L116.36 310.10ZM116.10 317.95L121.94 314.44L121.47 314.14L124.00 313.49L122.25 315.42L122.20 314.86L116.36 318.37ZM116.09 326.22L122.64 322.02L122.16 321.73L124.67 321.01L122.97 322.99L122.91 322.44L116.37 326.64ZM116.09 334.50L123.24 329.67L122.76 329.39L125.25 328.61L123.60 330.63L123.52 330.08L116.37 334.91ZM116.08 342.77L123.98 337.02L123.48 336.77L125.94 335.90L124.37 337.98L124.27 337.43L116.38 343.18ZM116.08 351.05L124.96 344.34L124.46 344.09L126.90 343.19L125.36 345.29L125.26 344.74L116.38 351.45ZM116.07 359.32L125.74 351.62L125.24 351.39L127.66 350.42L126.17 352.56L126.06 352.02L116.39 359.72ZM124.66 193.89L132.92 200.96L133.05 200.42L134.46 202.62L132.07 201.56L132.59 201.34L124.34 194.27ZM124.66 202.16L131.92 207.96L132.03 207.41L133.52 209.56L131.10 208.59L131.60 208.35L124.35 202.55ZM124.65 210.42L130.92 215.08L131.01 214.53L132.57 216.62L130.12 215.73L130.62 215.48L124.35 210.82ZM124.64 218.69L129.93 222.32L130.01 221.77L131.65 223.80L129.16 223.00L129.65 222.73L124.36 219.10ZM124.63 226.96L129.00 229.69L129.05 229.13L130.77 231.10L128.25 230.40L128.73 230.11L124.37 227.38ZM124.62 235.22L128.12 237.20L128.15 236.64L129.96 238.52L127.41 237.95L127.88 237.63L124.38 235.66ZM124.61 243.49L127.34 244.85L127.34 244.29L129.24 246.08L126.67 245.63L127.12 245.30L124.39 243.94ZM124.60 251.75L126.68 252.64L126.64 252.08L128.65 253.76L126.06 253.46L126.48 253.10L124.40 252.21ZM124.58 260.02L126.17 260.56L126.10 260.00L128.22 261.51L125.62 261.42L126.01 261.03L124.42 260.49ZM124.55 268.28L125.85 268.55L125.70 268.01L128.00 269.24L125.40 269.48L125.75 269.04L124.45 268.77ZM124.50 276.55L125.70 276.55L125.45 276.05L127.95 276.80L125.45 277.55L125.70 277.05L124.50 277.05ZM124.41 284.84L125.51 284.39L125.09 284.02L127.69 283.77L125.66 285.41L125.70 284.85L124.60 285.30ZM124.38 293.13L126.39 292.00L125.93 291.68L128.47 291.11L126.66 292.99L126.64 292.43L124.62 293.56ZM124.37 301.40L127.10 299.70L126.62 299.40L129.14 298.72L127.42 300.68L127.37 300.12L124.63 301.83ZM124.37 309.68L127.59 307.67L127.12 307.38L129.63 306.70L127.91 308.65L127.86 308.10L124.63 310.10ZM124.37 317.95L128.30 315.47L127.82 315.18L130.33 314.48L128.62 316.45L128.56 315.89L124.64 318.37ZM124.36 326.22L128.78 323.29L128.30 323.01L130.79 322.26L129.13 324.26L129.06 323.71L124.64 326.64ZM124.35 334.50L129.53 330.70L129.03 330.45L131.49 329.57L129.92 331.66L129.83 331.10L124.65 334.91ZM124.35 342.78L130.32 338.06L129.82 337.82L132.24 336.86L130.75 339.00L130.63 338.45L124.66 343.17ZM124.34 351.06L131.56 344.94L131.04 344.72L133.43 343.68L132.01 345.87L131.88 345.32L124.66 351.44ZM124.34 359.33L132.59 352.26L132.07 352.04L134.46 350.98L133.05 353.18L132.92 352.64L124.66 359.71ZM132.95 193.90L139.79 200.43L139.96 199.90L141.25 202.17L138.92 200.99L139.45 200.80L132.60 194.26ZM132.94 202.16L138.81 207.30L138.96 206.76L140.34 208.97L137.97 207.89L138.49 207.68L132.61 202.54ZM132.93 210.43L137.78 214.33L137.90 213.79L139.38 215.94L136.96 214.96L137.47 214.72L132.62 210.82ZM132.92 218.69L136.74 221.51L136.83 220.96L138.40 223.05L135.94 222.17L136.44 221.92L132.63 219.10ZM132.91 226.96L135.71 228.85L135.79 228.29L137.44 230.31L134.95 229.54L135.44 229.26L132.63 227.38ZM132.90 235.23L134.74 236.34L134.78 235.78L136.54 237.71L134.01 237.06L134.48 236.76L132.64 235.65ZM132.89 243.49L133.84 244.00L133.85 243.44L135.71 245.27L133.15 244.76L133.60 244.44L132.66 243.93ZM132.87 251.76L133.09 251.86L133.07 251.33L134.97 252.98L132.48 252.64L132.89 252.30L132.67 252.20ZM132.83 260.09L132.99 260.15L132.95 259.77L134.40 260.83L132.60 260.74L132.88 260.48L132.72 260.42ZM132.80 268.40L132.93 268.43L132.85 268.15L134.05 268.80L132.69 268.91L132.87 268.68L132.75 268.66ZM132.77 276.68L132.89 276.68L132.77 276.45L133.93 276.80L132.77 277.15L132.89 276.92L132.77 276.92ZM132.69 284.97L132.79 284.88L132.51 284.77L133.79 284.20L133.03 285.38L132.96 285.09L132.86 285.17ZM132.64 293.17L132.82 293.04L132.38 292.82L134.51 292.04L133.17 293.87L133.08 293.39L132.90 293.52ZM132.67 301.40L132.89 301.30L132.48 300.96L134.97 300.62L133.07 302.27L133.09 301.74L132.87 301.84ZM132.66 309.67L133.60 309.16L133.15 308.84L135.71 308.33L133.85 310.16L133.84 309.60L132.89 310.11ZM132.64 317.95L134.48 316.84L134.01 316.54L136.54 315.89L134.78 317.82L134.74 317.26L132.90 318.37ZM132.63 326.22L135.44 324.34L134.95 324.06L137.44 323.29L135.79 325.31L135.71 324.75L132.91 326.64ZM132.63 334.50L136.44 331.68L135.94 331.43L138.40 330.55L136.83 332.64L136.74 332.09L132.92 334.91ZM132.62 342.78L137.47 338.88L136.96 338.64L139.38 337.66L137.90 339.81L137.78 339.27L132.93 343.17ZM132.60 351.07L138.20 345.72L137.67 345.53L139.99 344.35L138.71 346.62L138.54 346.08L132.95 351.43ZM132.60 359.34L139.45 352.80L138.92 352.61L141.25 351.43L139.96 353.70L139.79 353.17L132.95 359.70ZM141.23 193.92L146.59 200.07L146.81 199.56L147.88 201.94L145.67 200.54L146.21 200.40L140.86 194.24ZM141.22 202.18L145.75 206.72L145.93 206.19L147.16 208.49L144.86 207.25L145.40 207.08L140.87 202.53ZM141.21 210.44L144.74 213.61L144.89 213.07L146.24 215.30L143.88 214.19L144.40 213.98L140.88 210.81ZM141.20 218.70L143.65 220.69L143.77 220.15L145.24 222.31L142.83 221.31L143.34 221.08L140.89 219.09ZM141.19 226.97L142.55 227.96L142.64 227.41L144.21 229.49L141.75 228.62L142.25 228.36L140.90 227.37ZM141.18 235.23L141.43 235.39L141.49 234.83L143.17 236.83L140.67 236.09L141.15 235.81L140.91 235.65ZM141.11 243.60L141.22 243.66L141.24 243.37L142.18 244.36L140.85 244.05L141.09 243.89L140.98 243.82ZM141.30 251.98L141.17 252.20L140.92 252.20L140.80 251.98L140.92 251.77L141.17 251.77ZM141.30 260.26L141.17 260.47L140.92 260.47L140.80 260.26L140.92 260.04L141.17 260.04ZM141.03 268.59L140.98 268.57L141.01 268.70L140.47 268.40L141.08 268.35L141.00 268.46L141.06 268.47ZM141.05 276.87L140.97 276.87L141.05 277.02L140.32 276.80L141.05 276.58L140.97 276.73L141.05 276.73ZM141.07 285.16L140.99 285.19L141.13 285.33L140.18 285.36L140.96 284.81L140.93 285.01L141.02 284.99ZM141.30 293.34L141.17 293.56L140.92 293.56L140.80 293.34L140.92 293.13L141.17 293.13ZM141.30 301.62L141.17 301.83L140.92 301.83L140.80 301.62L140.92 301.40L141.17 301.40ZM140.98 309.78L141.09 309.71L140.85 309.55L142.18 309.24L141.24 310.23L141.22 309.94L141.11 310.00ZM140.91 317.95L141.15 317.79L140.67 317.51L143.17 316.77L141.49 318.77L141.43 318.21L141.18 318.37ZM140.90 326.23L142.25 325.24L141.75 324.98L144.21 324.11L142.64 326.19L142.55 325.64L141.19 326.63ZM140.89 334.51L143.34 332.52L142.83 332.29L145.24 331.29L143.77 333.45L143.65 332.91L141.20 334.90ZM140.88 342.79L144.40 339.62L143.88 339.41L146.24 338.30L144.89 340.53L144.74 339.99L141.21 343.16ZM140.86 351.08L145.08 346.35L144.54 346.21L146.76 344.84L145.66 347.20L145.45 346.68L141.23 351.41ZM140.86 359.36L146.21 353.20L145.67 353.06L147.88 351.66L146.81 354.04L146.59 353.53L141.23 359.68ZM149.53 193.95L153.26 199.85L153.55 199.37L154.25 201.88L152.28 200.17L152.84 200.11L149.11 194.21ZM149.52 202.20L152.68 206.26L152.92 205.75L153.87 208.18L151.74 206.67L152.29 206.56L149.12 202.51ZM149.50 210.45L151.80 212.93L151.99 212.41L153.14 214.75L150.89 213.43L151.43 213.27L149.13 210.79ZM149.49 218.71L150.71 219.86L150.87 219.33L152.18 221.58L149.85 220.42L150.37 220.23L149.15 219.08ZM149.46 226.99L149.64 227.14L149.75 226.64L151.07 228.62L148.88 227.69L149.35 227.49L149.17 227.34ZM149.37 235.38L149.43 235.42L149.46 235.25L149.97 235.91L149.18 235.63L149.34 235.55L149.27 235.50ZM149.57 243.71L149.44 243.93L149.19 243.93L149.07 243.71L149.19 243.50L149.44 243.50ZM149.25 252.10L149.13 252.04L149.13 252.34L148.12 251.35L149.51 251.62L149.26 251.80L149.38 251.86ZM149.24 260.46L149.03 260.38L149.07 260.87L147.28 259.43L149.57 259.65L149.20 259.97L149.40 260.05ZM149.26 268.77L148.80 268.66L148.93 269.21L146.67 267.90L149.28 267.75L148.92 268.18L149.38 268.28ZM149.32 277.05L148.67 277.05L148.92 277.55L146.42 276.80L148.92 276.05L148.67 276.55L149.32 276.55ZM149.36 285.32L148.68 285.42L149.00 285.88L146.42 285.51L148.78 284.39L148.61 284.93L149.28 284.82ZM149.38 293.56L149.16 293.62L149.49 293.99L147.17 293.92L149.14 292.70L149.05 293.19L149.26 293.13ZM149.38 301.74L149.26 301.80L149.51 301.98L148.12 302.25L149.13 301.26L149.13 301.56L149.25 301.50ZM149.57 309.89L149.44 310.10L149.19 310.10L149.07 309.89L149.19 309.67L149.44 309.67ZM149.27 318.10L149.34 318.05L149.18 317.97L149.97 317.69L149.46 318.35L149.43 318.18L149.37 318.22ZM149.17 326.26L149.35 326.11L148.88 325.91L151.07 324.98L149.75 326.96L149.64 326.46L149.46 326.61ZM149.15 334.52L150.37 333.37L149.85 333.18L152.18 332.02L150.87 334.27L150.71 333.74L149.49 334.89ZM149.13 342.81L151.43 340.33L150.89 340.17L153.14 338.85L151.99 341.19L151.80 340.67L149.50 343.15ZM149.11 351.11L151.72 347.06L151.16 347.00L153.15 345.30L152.42 347.81L152.14 347.33L149.53 351.38ZM149.11 359.39L152.84 353.49L152.28 353.43L154.25 351.72L153.55 354.23L153.26 353.75L149.53 359.65ZM157.82 193.98L160.08 199.47L160.45 199.05L160.71 201.65L159.06 199.62L159.62 199.66L157.36 194.18ZM157.81 202.23L159.69 205.78L160.02 205.33L160.53 207.89L158.69 206.03L159.25 206.02L157.37 202.47ZM157.80 210.48L159.00 212.26L159.27 211.77L160.05 214.26L158.03 212.61L158.58 212.54L157.38 210.76ZM157.78 218.74L157.97 218.96L158.19 218.45L159.22 220.84L157.04 219.41L157.58 219.28L157.40 219.06ZM157.65 227.11L157.70 227.17L157.76 227.00L158.16 227.73L157.42 227.34L157.59 227.28L157.53 227.22ZM157.55 235.49L157.51 235.45L157.48 235.58L157.14 235.06L157.70 235.30L157.58 235.36L157.63 235.39ZM157.47 243.88L157.31 243.76L157.24 244.20L155.95 242.53L157.94 243.22L157.54 243.43L157.71 243.55ZM157.46 252.20L156.59 251.68L156.55 252.24L154.78 250.32L157.31 250.95L156.84 251.25L157.72 251.77ZM157.49 260.48L155.67 259.67L155.70 260.23L153.72 258.52L156.31 258.86L155.88 259.22L157.69 260.03ZM157.53 268.77L155.00 268.12L155.12 268.67L152.88 267.32L155.49 267.21L155.13 267.64L157.65 268.29ZM157.59 277.05L154.76 277.05L155.01 277.55L152.51 276.80L155.01 276.05L154.76 276.55L157.59 276.55ZM157.64 285.32L154.86 285.88L155.20 286.32L152.60 286.09L154.90 284.85L154.76 285.39L157.54 284.83ZM157.67 293.58L155.30 294.39L155.70 294.78L153.09 294.88L155.22 293.36L155.14 293.92L157.51 293.11ZM157.72 301.83L156.84 302.35L157.31 302.65L154.78 303.28L156.55 301.36L156.59 301.92L157.46 301.40ZM157.71 310.05L157.54 310.17L157.94 310.38L155.95 311.07L157.24 309.40L157.31 309.84L157.47 309.72ZM157.63 318.21L157.58 318.24L157.70 318.30L157.14 318.54L157.48 318.02L157.51 318.15L157.55 318.11ZM157.53 326.38L157.59 326.32L157.42 326.26L158.16 325.87L157.76 326.60L157.70 326.43L157.65 326.49ZM157.40 334.54L157.58 334.32L157.04 334.19L159.22 332.76L158.19 335.15L157.97 334.64L157.78 334.86ZM157.38 342.84L158.58 341.06L158.03 340.99L160.05 339.34L159.27 341.83L159.00 341.34L157.80 343.12ZM157.37 351.13L159.25 347.58L158.69 347.57L160.53 345.71L160.02 348.27L159.69 347.82L157.81 351.37ZM157.36 359.42L159.62 353.94L159.06 353.98L160.71 351.95L160.45 354.55L160.08 354.13L157.82 359.62ZM166.10 194.02L167.41 198.89L167.83 198.52L167.76 201.13L166.38 198.91L166.93 199.02L165.62 194.14ZM166.10 202.27L167.07 205.16L167.46 204.77L167.54 207.38L166.04 205.24L166.59 205.32L165.62 202.43ZM166.09 210.52L166.52 211.51L166.88 211.08L167.18 213.67L165.50 211.68L166.06 211.71L165.63 210.72ZM165.98 218.83L166.04 218.95L166.20 218.70L166.50 220.03L165.52 219.09L165.81 219.07L165.75 218.96ZM166.11 227.17L165.99 227.38L165.74 227.38L165.61 227.17L165.74 226.95L165.99 226.95ZM165.71 235.58L165.58 235.43L165.42 235.85L164.49 233.95L166.31 235.03L165.87 235.15L166.01 235.30ZM165.70 243.90L164.65 242.98L164.51 243.52L163.12 241.30L165.50 242.39L164.98 242.60L166.03 243.52ZM165.72 252.19L163.41 250.57L163.32 251.12L161.71 249.07L164.18 249.89L163.69 250.16L166.01 251.78ZM165.75 260.48L162.36 258.72L162.35 259.28L160.47 257.46L163.04 257.95L162.58 258.28L165.98 260.03ZM165.79 268.77L161.49 267.51L161.59 268.06L159.40 266.64L162.01 266.62L161.63 267.03L165.93 268.29ZM165.86 277.05L161.15 277.05L161.40 277.55L158.90 276.80L161.40 276.05L161.15 276.55L165.86 276.55ZM165.93 285.31L161.20 286.54L161.57 286.97L158.96 286.87L161.19 285.51L161.07 286.06L165.80 284.83ZM165.98 293.57L162.32 295.44L162.77 295.77L160.21 296.24L162.09 294.44L162.10 294.99L165.75 293.12ZM166.01 301.82L163.69 303.44L164.18 303.71L161.71 304.53L163.32 302.48L163.41 303.03L165.72 301.41ZM166.03 310.08L164.98 311.00L165.50 311.21L163.12 312.30L164.51 310.08L164.65 310.62L165.70 309.70ZM166.01 318.30L165.87 318.45L166.31 318.57L164.49 319.65L165.42 317.75L165.58 318.17L165.71 318.02ZM166.11 326.43L165.99 326.65L165.74 326.65L165.61 326.43L165.74 326.22L165.99 326.22ZM165.75 334.64L165.81 334.53L165.52 334.51L166.50 333.57L166.20 334.90L166.04 334.65L165.98 334.77ZM165.63 342.88L166.06 341.89L165.50 341.92L167.18 339.93L166.88 342.52L166.52 342.09L166.09 343.08ZM165.62 351.17L166.59 348.28L166.04 348.36L167.54 346.22L167.46 348.83L167.07 348.44L166.10 351.33ZM165.62 359.46L166.93 354.58L166.38 354.69L167.76 352.47L167.83 355.08L167.41 354.71L166.10 359.58ZM174.38 194.04L175.15 198.30L175.60 197.96L175.31 200.56L174.12 198.23L174.66 198.39L173.89 194.12ZM174.38 202.30L174.85 204.51L175.29 204.16L175.08 206.76L173.82 204.47L174.36 204.61L173.89 202.40ZM174.37 210.56L174.43 210.80L174.83 210.44L174.75 212.95L173.44 210.81L173.96 210.92L173.90 210.69ZM174.38 218.90L174.26 219.11L174.01 219.11L173.88 218.90L174.01 218.68L174.26 218.68ZM174.01 227.22L173.95 227.10L173.76 227.34L173.57 225.93L174.51 227.00L174.20 226.99L174.26 227.11ZM173.92 235.57L173.39 234.70L173.09 235.18L172.43 232.65L174.37 234.39L173.82 234.44L174.35 235.31ZM173.94 243.87L172.16 241.68L171.93 242.19L170.93 239.78L173.09 241.24L172.54 241.36L174.33 243.55ZM173.96 252.17L170.84 249.29L170.68 249.82L169.35 247.58L171.70 248.72L171.18 248.92L174.30 251.80ZM174.00 260.47L169.43 257.49L169.37 258.04L167.68 256.05L170.18 256.79L169.70 257.07L174.27 260.05ZM174.05 268.76L168.12 266.66L168.19 267.21L166.09 265.67L168.70 265.80L168.29 266.19L174.22 268.29ZM174.13 277.05L167.54 277.05L167.79 277.55L165.29 276.80L167.79 276.05L167.54 276.55L174.13 276.55ZM174.22 285.31L168.13 287.46L168.53 287.85L165.93 287.97L168.03 286.43L167.97 286.99L174.05 284.84ZM174.28 293.55L169.69 296.89L170.19 297.15L167.72 298.01L169.30 295.93L169.40 296.49L173.99 293.14ZM174.30 301.80L171.18 304.68L171.70 304.88L169.35 306.02L170.68 303.78L170.84 304.31L173.96 301.43ZM174.33 310.05L172.54 312.24L173.09 312.36L170.93 313.82L171.93 311.41L172.16 311.92L173.94 309.73ZM174.35 318.29L173.82 319.16L174.37 319.21L172.43 320.95L173.09 318.42L173.39 318.90L173.92 318.03ZM174.26 326.49L174.20 326.61L174.51 326.60L173.57 327.67L173.76 326.26L173.95 326.50L174.01 326.38ZM174.38 334.70L174.26 334.92L174.01 334.92L173.88 334.70L174.01 334.49L174.26 334.49ZM173.90 342.91L173.96 342.68L173.44 342.79L174.75 340.65L174.83 343.16L174.43 342.80L174.37 343.04ZM173.89 351.20L174.36 348.99L173.82 349.13L175.08 346.84L175.29 349.44L174.85 349.09L174.38 351.30ZM173.89 359.48L174.66 355.21L174.12 355.37L175.31 353.04L175.60 355.64L175.15 355.30L174.38 359.56ZM182.65 194.05L183.09 197.83L183.56 197.53L183.10 200.10L182.07 197.70L182.59 197.89L182.16 194.11ZM182.65 202.32L182.87 203.98L183.34 203.67L182.92 206.25L181.85 203.87L182.38 204.05L182.16 202.38ZM182.58 210.60L182.60 210.77L182.92 210.54L182.67 212.33L181.90 210.70L182.26 210.82L182.24 210.65ZM182.66 218.90L182.53 219.11L182.28 219.11L182.16 218.90L182.28 218.68L182.53 218.68ZM182.19 227.22L182.14 227.01L181.77 227.33L181.87 225.04L183.04 227.01L182.57 226.90L182.62 227.11ZM182.17 235.52L181.53 233.64L181.13 234.04L181.04 231.43L182.55 233.55L182.00 233.48L182.64 235.36ZM182.18 243.82L180.53 240.37L180.19 240.81L179.79 238.24L181.54 240.17L180.98 240.16L182.63 243.60ZM182.20 252.13L179.12 247.62L178.85 248.11L178.06 245.62L180.09 247.27L179.53 247.34L182.61 251.84ZM182.23 260.44L177.45 255.80L177.28 256.34L176.00 254.06L178.32 255.26L177.80 255.44L182.58 260.08ZM182.29 268.75L176.15 265.66L176.14 266.22L174.25 264.42L176.82 264.88L176.37 265.21L182.52 268.30ZM182.41 277.05L175.43 277.05L175.68 277.55L173.18 276.80L175.68 276.05L175.43 276.55L182.41 276.55ZM182.53 285.29L176.68 288.68L177.14 288.99L174.60 289.60L176.39 287.69L176.43 288.25L182.28 284.86ZM182.59 293.52L178.01 298.40L178.54 298.56L176.29 299.87L177.45 297.53L177.64 298.06L182.22 293.17ZM182.62 301.75L179.47 306.75L180.02 306.80L178.06 308.52L178.75 306.00L179.04 306.48L182.19 301.48ZM182.63 309.99L180.88 313.94L181.44 313.91L179.74 315.89L180.07 313.30L180.42 313.73L182.18 309.79ZM182.64 318.25L181.67 320.69L182.23 320.64L180.61 322.68L180.83 320.08L181.21 320.50L182.17 318.07ZM182.64 326.52L182.45 327.01L183.00 326.96L181.39 329.01L181.61 326.41L181.98 326.83L182.17 326.34ZM182.66 334.70L182.53 334.92L182.28 334.92L182.16 334.70L182.28 334.49L182.53 334.49ZM182.24 342.95L182.26 342.78L181.90 342.90L182.67 341.27L182.92 343.06L182.60 342.83L182.58 343.00ZM182.16 351.22L182.38 349.55L181.85 349.73L182.92 347.35L183.34 349.93L182.87 349.62L182.65 351.28ZM182.16 359.49L182.59 355.71L182.07 355.90L183.10 353.50L183.56 356.07L183.09 355.77L182.65 359.55ZM190.93 194.07L191.13 197.54L191.61 197.27L191.00 199.80L190.11 197.35L190.63 197.57L190.43 194.09ZM190.93 202.34L191.01 203.65L191.50 203.37L190.91 205.92L190.00 203.47L190.51 203.69L190.43 202.37ZM190.81 210.61L190.82 210.74L191.07 210.59L190.78 211.92L190.29 210.65L190.56 210.76L190.55 210.63ZM190.62 218.90L190.61 218.84L190.50 218.91L190.62 218.31L190.85 218.88L190.73 218.83L190.74 218.89ZM190.43 227.20L190.38 226.73L189.91 227.03L190.37 224.47L191.40 226.87L190.87 226.67L190.93 227.14ZM190.43 235.48L190.04 232.90L189.59 233.22L189.96 230.63L191.07 233.00L190.54 232.82L190.93 235.40ZM190.43 243.76L189.51 239.38L189.08 239.73L189.30 237.13L190.54 239.42L190.00 239.28L190.92 243.66ZM190.44 252.06L188.57 246.05L188.17 246.44L188.14 243.83L189.60 245.99L189.05 245.90L190.92 251.91ZM190.45 260.37L187.39 254.20L187.06 254.65L186.61 252.08L188.40 253.98L187.84 253.98L190.90 260.14ZM190.50 268.70L186.56 264.78L186.39 265.31L185.15 263.01L187.45 264.24L186.92 264.42L190.85 268.35ZM190.68 277.05L186.11 277.05L186.36 277.55L183.86 276.80L186.36 276.05L186.11 276.55L190.68 276.55ZM190.87 285.24L187.07 289.58L187.61 289.72L185.40 291.10L186.48 288.73L186.69 289.25L190.49 284.91ZM190.91 293.45L187.98 299.90L188.54 299.87L186.82 301.84L187.17 299.25L187.52 299.69L190.45 293.24ZM190.92 301.69L188.85 308.11L189.40 308.02L187.92 310.17L187.98 307.56L188.37 307.95L190.44 301.54ZM190.92 309.95L189.77 314.44L190.31 314.32L188.97 316.56L188.86 313.95L189.28 314.32L190.44 309.83ZM190.92 318.22L190.22 321.05L190.76 320.93L189.43 323.18L189.31 320.57L189.73 320.93L190.44 318.10ZM190.92 326.49L190.77 327.16L191.31 327.03L190.04 329.30L189.85 326.70L190.28 327.05L190.43 326.38ZM190.74 334.71L190.73 334.77L190.85 334.72L190.62 335.29L190.50 334.69L190.61 334.76L190.62 334.70ZM190.55 342.97L190.56 342.84L190.29 342.95L190.78 341.68L191.07 343.01L190.82 342.86L190.81 342.99ZM190.43 351.23L190.51 349.91L190.00 350.13L190.91 347.68L191.50 350.23L191.01 349.95L190.93 351.26ZM190.43 359.51L190.63 356.03L190.11 356.25L191.00 353.80L191.61 356.33L191.13 356.06L190.93 359.53ZM199.20 194.08L199.20 197.46L199.70 197.21L198.95 199.71L198.20 197.21L198.70 197.46L198.70 194.08ZM199.20 202.35L199.20 203.55L199.70 203.30L198.95 205.80L198.20 203.30L198.70 203.55L198.70 202.35ZM199.07 210.62L199.07 210.74L199.30 210.62L198.95 211.78L198.60 210.62L198.83 210.74L198.83 210.62ZM198.88 218.90L198.88 218.82L198.73 218.90L198.95 218.17L199.17 218.90L199.02 218.82L199.02 218.90ZM198.70 227.17L198.70 226.52L198.20 226.77L198.95 224.27L199.70 226.77L199.20 226.52L199.20 227.17ZM198.70 235.44L198.70 232.62L198.20 232.87L198.95 230.37L199.70 232.87L199.20 232.62L199.20 235.44ZM198.70 243.71L198.70 239.00L198.20 239.25L198.95 236.75L199.70 239.25L199.20 239.00L199.20 243.71ZM198.70 251.98L198.70 245.39L198.20 245.64L198.95 243.14L199.70 245.64L199.20 245.39L199.20 251.98ZM198.70 260.26L198.70 253.28L198.20 253.53L198.95 251.03L199.70 253.53L199.20 253.28L199.20 260.26ZM198.70 268.53L198.70 263.96L198.20 264.21L198.95 261.71L199.70 264.21L199.20 263.96L199.20 268.53ZM199.20 276.80L199.07 277.02L198.82 277.02L198.70 276.80L198.82 276.58L199.07 276.58ZM199.20 285.07L199.20 289.58L199.70 289.33L198.95 291.83L198.20 289.33L198.70 289.58L198.70 285.07ZM199.20 293.34L199.20 300.32L199.70 300.07L198.95 302.57L198.20 300.07L198.70 300.32L198.70 293.34ZM199.20 301.62L199.20 308.30L199.70 308.05L198.95 310.55L198.20 308.05L198.70 308.30L198.70 301.62ZM199.20 309.89L199.20 314.40L199.70 314.15L198.95 316.65L198.20 314.15L198.70 314.40L198.70 309.89ZM199.20 318.16L199.20 321.22L199.70 320.97L198.95 323.47L198.20 320.97L198.70 321.22L198.70 318.16ZM199.20 326.43L199.20 327.05L199.70 326.80L198.95 329.30L198.20 326.80L198.70 327.05L198.70 326.43ZM199.02 334.70L199.02 334.78L199.17 334.70L198.95 335.43L198.73 334.70L198.88 334.78L198.88 334.70ZM198.83 342.98L198.83 342.86L198.60 342.98L198.95 341.82L199.30 342.98L199.07 342.86L199.07 342.98ZM198.70 351.25L198.70 350.05L198.20 350.30L198.95 347.80L199.70 350.30L199.20 350.05L199.20 351.25ZM198.70 359.52L198.70 356.14L198.20 356.39L198.95 353.89L199.70 356.39L199.20 356.14L199.20 359.52ZM207.47 194.09L207.27 197.57L207.79 197.35L206.90 199.80L206.29 197.27L206.77 197.54L206.97 194.07ZM207.47 202.37L207.39 203.69L207.90 203.47L206.99 205.92L206.40 203.37L206.89 203.65L206.97 202.34ZM207.35 210.63L207.34 210.76L207.61 210.65L207.12 211.92L206.83 210.59L207.08 210.74L207.09 210.61ZM207.16 218.89L207.17 218.83L207.05 218.88L207.28 218.31L207.40 218.91L207.29 218.84L207.28 218.90ZM206.97 227.14L207.03 226.67L206.50 226.87L207.53 224.47L207.99 227.03L207.52 226.73L207.47 227.20ZM206.97 235.40L207.36 232.82L206.83 233.00L207.94 230.63L208.31 233.22L207.86 232.90L207.47 235.48ZM206.98 243.66L207.90 239.28L207.36 239.42L208.60 237.13L208.82 239.73L208.39 239.38L207.47 243.76ZM206.98 251.91L208.85 245.90L208.30 245.99L209.76 243.83L209.73 246.44L209.33 246.05L207.46 252.06ZM207.00 260.14L210.06 253.98L209.50 253.98L211.29 252.08L210.84 254.65L210.51 254.20L207.45 260.37ZM207.05 268.35L210.98 264.42L210.45 264.24L212.75 263.01L211.51 265.31L211.34 264.78L207.40 268.70ZM207.22 276.55L211.79 276.55L211.54 276.05L214.04 276.80L211.54 277.55L211.79 277.05L207.22 277.05ZM207.41 284.91L211.25 289.25L211.46 288.73L212.56 291.10L210.34 289.73L210.88 289.58L207.03 285.24ZM207.45 293.23L210.60 299.65L210.94 299.21L211.37 301.78L209.59 299.87L210.15 299.87L207.00 293.45ZM207.46 301.53L209.71 307.54L210.09 307.13L210.27 309.74L208.69 307.66L209.24 307.72L206.99 301.70ZM207.46 309.82L208.67 314.21L209.08 313.83L209.02 316.44L207.64 314.23L208.18 314.34L206.98 309.95ZM207.46 318.10L208.20 320.94L208.62 320.57L208.53 323.18L207.17 320.95L207.72 321.06L206.98 318.22ZM207.47 326.38L207.62 327.05L208.05 326.70L207.89 329.30L206.59 327.04L207.14 327.17L206.98 326.49ZM207.28 334.70L207.29 334.76L207.40 334.69L207.28 335.29L207.05 334.72L207.17 334.77L207.16 334.71ZM207.09 342.99L207.08 342.86L206.83 343.01L207.12 341.68L207.61 342.95L207.34 342.84L207.35 342.97ZM206.97 351.26L206.89 349.95L206.40 350.23L206.99 347.68L207.90 350.13L207.39 349.91L207.47 351.23ZM206.97 359.53L206.77 356.06L206.29 356.33L206.90 353.80L207.79 356.25L207.27 356.03L207.47 359.51ZM215.74 194.11L215.31 197.89L215.83 197.70L214.80 200.10L214.34 197.53L214.81 197.83L215.25 194.05ZM215.74 202.38L215.52 204.05L216.05 203.87L214.98 206.25L214.56 203.67L215.03 203.98L215.25 202.32ZM215.66 210.65L215.64 210.82L216.00 210.70L215.23 212.33L214.98 210.54L215.30 210.77L215.32 210.60ZM215.74 218.90L215.62 219.11L215.37 219.11L215.24 218.90L215.37 218.68L215.62 218.68ZM215.28 227.11L215.33 226.90L214.86 227.01L216.03 225.04L216.13 227.33L215.76 227.01L215.71 227.22ZM215.26 235.36L215.90 233.48L215.35 233.55L216.86 231.43L216.77 234.04L216.37 233.64L215.73 235.52ZM215.27 243.60L216.92 240.16L216.36 240.17L218.11 238.24L217.71 240.81L217.37 240.37L215.72 243.82ZM215.29 251.84L218.37 247.34L217.81 247.27L219.84 245.62L219.05 248.11L218.78 247.62L215.70 252.13ZM215.32 260.08L220.10 255.44L219.58 255.26L221.90 254.06L220.62 256.34L220.45 255.80L215.67 260.44ZM215.38 268.30L221.53 265.21L221.08 264.88L223.65 264.42L221.76 266.22L221.75 265.66L215.61 268.75ZM215.49 276.55L222.47 276.55L222.22 276.05L224.72 276.80L222.22 277.55L222.47 277.05L215.49 277.05ZM215.62 284.85L221.52 288.19L221.54 287.63L223.35 289.51L220.81 288.93L221.27 288.62L215.37 285.29ZM215.68 293.17L220.26 298.06L220.45 297.53L221.61 299.87L219.36 298.56L219.89 298.40L215.31 293.52ZM215.70 301.48L219.12 306.60L219.40 306.11L220.16 308.60L218.15 306.94L218.71 306.87L215.29 301.75ZM215.72 309.78L217.54 313.74L217.89 313.31L218.25 315.89L216.52 313.93L217.08 313.95L215.27 309.99ZM215.73 318.07L216.73 320.51L217.09 320.09L217.35 322.68L215.71 320.66L216.26 320.70L215.26 318.25ZM215.72 326.33L215.94 326.85L216.30 326.42L216.60 329.01L214.92 327.01L215.48 327.04L215.26 326.53ZM215.74 334.70L215.62 334.92L215.37 334.92L215.24 334.70L215.37 334.49L215.62 334.49ZM215.32 343.00L215.30 342.83L214.98 343.06L215.23 341.27L216.00 342.90L215.64 342.78L215.66 342.95ZM215.25 351.28L215.03 349.62L214.56 349.93L214.98 347.35L216.05 349.73L215.52 349.55L215.74 351.22ZM215.25 359.55L214.81 355.77L214.34 356.07L214.80 353.50L215.83 355.90L215.31 355.71L215.74 359.49ZM224.01 194.12L223.24 198.39L223.78 198.23L222.59 200.56L222.30 197.96L222.75 198.30L223.52 194.04ZM224.01 202.40L223.54 204.61L224.08 204.47L222.82 206.76L222.61 204.16L223.05 204.51L223.52 202.30ZM224.00 210.69L223.94 210.92L224.46 210.81L223.15 212.95L223.07 210.44L223.47 210.80L223.53 210.56ZM224.02 218.90L223.89 219.11L223.64 219.11L223.52 218.90L223.64 218.68L223.89 218.68ZM223.64 227.11L223.70 226.99L223.39 227.00L224.33 225.93L224.14 227.34L223.95 227.10L223.89 227.22ZM223.55 235.31L224.08 234.44L223.53 234.39L225.47 232.65L224.81 235.18L224.51 234.70L223.98 235.57ZM223.57 243.55L225.36 241.36L224.81 241.24L226.97 239.78L225.97 242.19L225.74 241.68L223.96 243.87ZM223.60 251.80L226.72 248.92L226.20 248.72L228.55 247.58L227.22 249.82L227.06 249.29L223.94 252.17ZM223.63 260.05L228.20 257.07L227.72 256.79L230.22 256.05L228.53 258.04L228.47 257.49L223.90 260.47ZM223.68 268.29L229.61 266.19L229.20 265.80L231.81 265.67L229.71 267.21L229.78 266.66L223.85 268.76ZM223.77 276.55L230.36 276.55L230.11 276.05L232.61 276.80L230.11 277.55L230.36 277.05L223.77 277.05ZM223.85 284.84L229.80 287.00L229.73 286.44L231.83 288.00L229.22 287.85L229.63 287.47L223.68 285.31ZM223.91 293.14L228.50 296.49L228.60 295.93L230.17 298.01L227.71 297.15L228.21 296.89L223.62 293.55ZM223.95 301.44L227.25 304.94L227.44 304.42L228.61 306.75L226.35 305.45L226.88 305.28L223.58 301.79ZM223.97 309.74L226.01 312.49L226.27 311.99L227.16 314.44L225.06 312.88L225.61 312.79L223.57 310.04ZM223.98 318.03L225.02 319.71L225.32 319.24L226.00 321.76L224.04 320.03L224.60 319.98L223.55 318.29ZM223.97 326.32L224.08 326.52L224.37 326.08L224.93 328.43L223.17 326.78L223.68 326.75L223.57 326.55ZM224.02 334.70L223.89 334.92L223.64 334.92L223.52 334.70L223.64 334.49L223.89 334.49ZM223.53 343.04L223.47 342.80L223.07 343.16L223.15 340.65L224.46 342.79L223.94 342.68L224.00 342.91ZM223.52 351.30L223.05 349.09L222.61 349.44L222.82 346.84L224.08 349.13L223.54 348.99L224.01 351.20ZM223.52 359.56L222.75 355.30L222.30 355.64L222.59 353.04L223.78 355.37L223.24 355.21L224.01 359.48ZM232.28 194.14L230.97 199.02L231.52 198.91L230.14 201.13L230.07 198.52L230.49 198.89L231.80 194.02ZM232.28 202.43L231.31 205.32L231.86 205.24L230.36 207.38L230.44 204.77L230.83 205.16L231.80 202.27ZM232.27 210.72L231.84 211.71L232.40 211.68L230.72 213.67L231.02 211.08L231.38 211.51L231.81 210.52ZM232.15 218.96L232.09 219.07L232.38 219.09L231.40 220.03L231.70 218.70L231.86 218.95L231.92 218.83ZM232.29 227.17L232.16 227.38L231.91 227.38L231.79 227.17L231.91 226.95L232.16 226.95ZM231.89 235.30L232.03 235.15L231.59 235.03L233.41 233.95L232.48 235.85L232.32 235.43L232.19 235.58ZM231.87 243.52L232.92 242.60L232.40 242.39L234.78 241.30L233.39 243.52L233.25 242.98L232.20 243.90ZM231.89 251.78L234.21 250.16L233.72 249.89L236.19 249.07L234.58 251.12L234.49 250.57L232.18 252.19ZM231.92 260.03L235.32 258.28L234.86 257.95L237.43 257.46L235.55 259.28L235.54 258.72L232.15 260.48ZM231.97 268.29L236.27 267.03L235.89 266.62L238.50 266.64L236.31 268.06L236.41 267.51L232.11 268.77ZM232.04 276.55L236.75 276.55L236.50 276.05L239.00 276.80L236.50 277.55L236.75 277.05L232.04 277.05ZM232.10 284.83L237.12 286.19L237.01 285.64L239.23 287.01L236.62 287.09L236.99 286.67L231.97 285.31ZM232.15 293.12L236.01 295.13L236.02 294.57L237.90 296.39L235.33 295.90L235.78 295.57L231.92 293.57ZM232.20 301.43L234.72 303.56L234.85 303.02L236.27 305.21L233.88 304.17L234.40 303.95L231.88 301.81ZM232.22 309.72L233.58 311.18L233.78 310.65L234.94 312.99L232.68 311.68L233.22 311.52L231.86 310.06ZM232.24 318.02L232.63 318.59L232.91 318.11L233.69 320.60L231.67 318.95L232.22 318.87L231.83 318.30ZM232.15 326.35L232.23 326.47L232.39 326.20L232.82 327.59L231.69 326.67L232.00 326.63L231.92 326.51ZM231.92 334.77L231.86 334.65L231.70 334.90L231.40 333.57L232.38 334.51L232.09 334.53L232.15 334.64ZM231.81 343.08L231.38 342.09L231.02 342.52L230.72 339.93L232.40 341.92L231.84 341.89L232.27 342.88ZM231.80 351.33L230.83 348.44L230.44 348.83L230.36 346.22L231.86 348.36L231.31 348.28L232.28 351.17ZM231.80 359.58L230.49 354.71L230.07 355.08L230.14 352.47L231.52 354.69L230.97 354.58L232.28 359.46ZM240.54 194.18L238.28 199.66L238.84 199.62L237.19 201.65L237.45 199.05L237.82 199.47L240.08 193.98ZM240.53 202.47L238.65 206.02L239.21 206.03L237.37 207.89L237.88 205.33L238.21 205.78L240.09 202.23ZM240.52 210.76L239.32 212.54L239.87 212.61L237.85 214.26L238.63 211.77L238.90 212.26L240.10 210.48ZM240.50 219.06L240.32 219.28L240.86 219.41L238.68 220.84L239.71 218.45L239.93 218.96L240.12 218.74ZM240.37 227.22L240.31 227.28L240.48 227.34L239.74 227.73L240.14 227.00L240.20 227.17L240.25 227.11ZM240.27 235.39L240.32 235.36L240.20 235.30L240.76 235.06L240.42 235.58L240.39 235.45L240.35 235.49ZM240.19 243.55L240.36 243.43L239.96 243.22L241.95 242.53L240.66 244.20L240.59 243.76L240.43 243.88ZM240.18 251.77L241.06 251.25L240.59 250.95L243.12 250.32L241.35 252.24L241.31 251.68L240.44 252.20ZM240.21 260.03L242.02 259.22L241.59 258.86L244.18 258.52L242.20 260.23L242.23 259.67L240.41 260.48ZM240.25 268.29L242.77 267.64L242.41 267.21L245.02 267.32L242.78 268.67L242.90 268.12L240.37 268.77ZM240.31 276.55L243.13 276.55L242.88 276.05L245.38 276.80L242.88 277.55L243.13 277.05L240.31 277.05ZM240.36 284.83L243.84 285.54L243.69 285.00L245.99 286.23L243.39 286.47L243.74 286.03L240.26 285.32ZM240.40 293.11L243.04 294.08L242.98 293.52L245.07 295.08L242.46 294.93L242.87 294.55L240.22 293.58ZM240.43 301.40L241.87 302.22L241.91 301.67L243.70 303.56L241.16 302.97L241.63 302.66L240.19 301.83ZM240.45 309.73L240.61 309.88L240.74 309.42L241.88 311.34L239.87 310.36L240.32 310.19L240.16 310.04ZM240.41 318.10L240.46 318.20L240.60 317.99L240.89 319.12L240.02 318.33L240.27 318.31L240.21 318.22ZM240.25 326.49L240.20 326.43L240.14 326.60L239.74 325.87L240.48 326.26L240.31 326.32L240.37 326.38ZM240.17 334.84L240.03 334.70L239.89 335.11L238.95 333.31L240.73 334.30L240.31 334.43L240.45 334.57ZM240.10 343.12L239.74 342.59L239.47 343.08L238.66 340.60L240.70 342.22L240.15 342.30L240.52 342.83ZM240.09 351.37L238.21 347.82L237.88 348.27L237.37 345.71L239.21 347.57L238.65 347.58L240.53 351.13ZM240.08 359.62L237.82 354.13L237.45 354.55L237.19 351.95L238.84 353.98L238.28 353.94L240.54 359.42ZM248.79 194.21L245.06 200.11L245.62 200.17L243.65 201.88L244.35 199.37L244.64 199.85L248.37 193.95ZM248.78 202.51L245.61 206.56L246.16 206.67L244.03 208.18L244.98 205.75L245.22 206.26L248.38 202.20ZM248.77 210.79L246.47 213.27L247.01 213.43L244.76 214.75L245.91 212.41L246.10 212.93L248.40 210.45ZM248.75 219.08L247.53 220.23L248.05 220.42L245.72 221.58L247.03 219.33L247.19 219.86L248.41 218.71ZM248.73 227.34L248.55 227.49L249.02 227.69L246.83 228.62L248.15 226.64L248.26 227.14L248.44 226.99ZM248.63 235.50L248.56 235.55L248.72 235.63L247.93 235.91L248.44 235.25L248.47 235.42L248.53 235.38ZM248.83 243.71L248.71 243.93L248.46 243.93L248.33 243.71L248.46 243.50L248.71 243.50ZM248.52 251.86L248.64 251.80L248.39 251.62L249.78 251.35L248.77 252.34L248.77 252.04L248.65 252.10ZM248.50 260.05L248.70 259.97L248.33 259.65L250.62 259.43L248.83 260.87L248.87 260.38L248.66 260.46ZM248.52 268.28L248.98 268.18L248.62 267.75L251.23 267.90L248.97 269.21L249.10 268.66L248.64 268.77ZM248.58 276.55L249.23 276.55L248.98 276.05L251.48 276.80L248.98 277.55L249.23 277.05L248.58 277.05ZM248.64 284.83L249.10 284.94L248.97 284.39L251.23 285.70L248.62 285.85L248.98 285.42L248.52 285.32ZM248.66 293.14L248.87 293.22L248.83 292.73L250.62 294.17L248.33 293.95L248.70 293.63L248.50 293.55ZM248.65 301.50L248.77 301.56L248.77 301.26L249.78 302.25L248.39 301.98L248.64 301.80L248.52 301.74ZM248.83 309.89L248.71 310.10L248.46 310.10L248.33 309.89L248.46 309.67L248.71 309.67ZM248.53 318.22L248.47 318.18L248.44 318.35L247.93 317.69L248.72 317.97L248.56 318.05L248.63 318.10ZM248.44 326.61L248.26 326.46L248.15 326.96L246.83 324.98L249.02 325.91L248.55 326.11L248.73 326.26ZM248.43 334.90L247.44 334.12L247.32 334.67L245.83 332.53L248.25 333.49L247.75 333.73L248.74 334.51ZM248.40 343.14L246.65 341.19L246.44 341.71L245.33 339.35L247.56 340.71L247.02 340.86L248.77 342.81ZM248.38 351.40L245.22 347.34L244.98 347.85L244.03 345.42L246.16 346.93L245.61 347.04L248.78 351.09ZM248.37 359.65L244.64 353.75L244.35 354.23L243.65 351.72L245.62 353.43L245.06 353.49L248.79 359.39ZM257.04 194.24L251.69 200.40L252.23 200.54L250.02 201.94L251.09 199.56L251.31 200.07L256.67 193.92ZM257.03 202.53L252.50 207.08L253.04 207.25L250.74 208.49L251.97 206.19L252.15 206.72L256.68 202.18ZM257.02 210.81L253.50 213.98L254.02 214.19L251.66 215.30L253.01 213.07L253.16 213.61L256.69 210.44ZM257.01 219.09L254.56 221.08L255.07 221.31L252.66 222.31L254.13 220.15L254.25 220.69L256.70 218.70ZM257.00 227.37L255.65 228.36L256.15 228.62L253.69 229.49L255.26 227.41L255.35 227.96L256.71 226.97ZM256.99 235.65L256.75 235.81L257.23 236.09L254.73 236.83L256.41 234.83L256.47 235.39L256.72 235.23ZM256.92 243.82L256.81 243.89L257.05 244.05L255.72 244.36L256.66 243.37L256.68 243.66L256.79 243.60ZM257.10 251.98L256.98 252.20L256.73 252.20L256.60 251.98L256.73 251.77L256.98 251.77ZM257.10 260.26L256.98 260.47L256.73 260.47L256.60 260.26L256.73 260.04L256.98 260.04ZM256.84 268.47L256.90 268.46L256.82 268.35L257.43 268.40L256.89 268.70L256.92 268.57L256.87 268.59ZM256.85 276.73L256.93 276.73L256.85 276.58L257.58 276.80L256.85 277.02L256.93 276.87L256.85 276.87ZM256.87 285.01L256.92 285.03L256.89 284.90L257.43 285.20L256.82 285.25L256.90 285.14L256.84 285.13ZM257.10 293.34L256.98 293.56L256.73 293.56L256.60 293.34L256.73 293.13L256.98 293.13ZM257.10 301.62L256.98 301.83L256.73 301.83L256.60 301.62L256.73 301.40L256.98 301.40ZM256.79 310.00L256.68 309.94L256.66 310.23L255.72 309.24L257.05 309.55L256.81 309.71L256.92 309.78ZM256.72 318.37L256.47 318.21L256.41 318.77L254.73 316.77L257.23 317.51L256.75 317.79L256.99 317.95ZM256.71 326.63L255.35 325.64L255.26 326.19L253.69 324.11L256.15 324.98L255.65 325.24L257.00 326.23ZM256.70 334.90L254.25 332.91L254.13 333.45L252.66 331.29L255.07 332.29L254.56 332.52L257.01 334.51ZM256.69 343.16L253.16 339.99L253.01 340.53L251.66 338.30L254.02 339.41L253.50 339.62L257.02 342.79ZM256.68 351.42L252.15 346.88L251.97 347.41L250.74 345.11L253.04 346.35L252.50 346.52L257.03 351.07ZM256.67 359.68L251.31 353.53L251.09 354.04L250.02 351.66L252.23 353.06L251.69 353.20L257.04 359.36ZM265.30 194.26L258.45 200.80L258.98 200.99L256.65 202.17L257.94 199.90L258.11 200.43L264.95 193.90ZM265.29 202.54L259.41 207.68L259.93 207.89L257.56 208.97L258.94 206.76L259.09 207.30L264.96 202.16ZM265.28 210.82L260.43 214.72L260.94 214.96L258.52 215.94L260.00 213.79L260.12 214.33L264.97 210.43ZM265.27 219.10L261.46 221.92L261.96 222.17L259.50 223.05L261.07 220.96L261.16 221.51L264.98 218.69ZM265.27 227.38L262.46 229.26L262.95 229.54L260.46 230.31L262.11 228.29L262.19 228.85L264.99 226.96ZM265.26 235.65L263.42 236.76L263.89 237.06L261.36 237.71L263.12 235.78L263.16 236.34L265.00 235.23ZM265.24 243.93L264.30 244.44L264.75 244.76L262.19 245.27L264.05 243.44L264.06 244.00L265.01 243.49ZM265.23 252.20L265.01 252.30L265.42 252.64L262.93 252.98L264.83 251.33L264.81 251.86L265.03 251.76ZM265.18 260.42L265.02 260.48L265.30 260.74L263.50 260.83L264.95 259.77L264.91 260.15L265.07 260.09ZM265.15 268.66L265.03 268.68L265.21 268.91L263.85 268.80L265.05 268.15L264.97 268.43L265.10 268.40ZM265.13 276.92L265.01 276.92L265.13 277.15L263.97 276.80L265.13 276.45L265.01 276.68L265.13 276.68ZM265.10 285.20L264.97 285.17L265.05 285.45L263.85 284.80L265.21 284.69L265.03 284.92L265.15 284.94ZM265.07 293.51L264.91 293.45L264.95 293.83L263.50 292.77L265.30 292.86L265.02 293.12L265.18 293.18ZM265.03 301.84L264.81 301.74L264.83 302.27L262.93 300.62L265.42 300.96L265.01 301.30L265.23 301.40ZM265.01 310.11L264.06 309.60L264.05 310.16L262.19 308.33L264.75 308.84L264.30 309.16L265.24 309.67ZM265.00 318.37L263.16 317.26L263.12 317.82L261.36 315.89L263.89 316.54L263.42 316.84L265.26 317.95ZM264.99 326.64L262.19 324.75L262.11 325.31L260.46 323.29L262.95 324.06L262.46 324.34L265.27 326.22ZM264.98 334.91L261.16 332.09L261.07 332.64L259.50 330.55L261.96 331.43L261.46 331.68L265.27 334.50ZM264.97 343.17L260.12 339.27L260.00 339.81L258.52 337.66L260.94 338.64L260.43 338.88L265.28 342.78ZM264.96 351.44L259.09 346.30L258.94 346.84L257.56 344.63L259.93 345.71L259.41 345.92L265.29 351.06ZM264.95 359.70L258.11 353.17L257.94 353.70L256.65 351.43L258.98 352.61L258.45 352.80L265.30 359.34ZM273.56 194.27L265.31 201.34L265.83 201.56L263.44 202.62L264.85 200.42L264.98 200.96L273.24 193.89ZM273.55 202.55L266.30 208.35L266.80 208.59L264.38 209.56L265.87 207.41L265.98 207.96L273.24 202.16ZM273.55 210.82L267.28 215.48L267.78 215.73L265.33 216.62L266.89 214.53L266.98 215.08L273.25 210.42ZM273.54 219.10L268.25 222.73L268.74 223.00L266.25 223.80L267.89 221.77L267.97 222.32L273.26 218.69ZM273.53 227.38L269.17 230.11L269.65 230.40L267.13 231.10L268.85 229.13L268.90 229.69L273.27 226.96ZM273.52 235.66L270.02 237.63L270.49 237.95L267.94 238.52L269.75 236.64L269.78 237.20L273.28 235.22ZM273.51 243.94L270.78 245.30L271.23 245.63L268.66 246.08L270.56 244.29L270.56 244.85L273.29 243.49ZM273.50 252.21L271.42 253.10L271.84 253.46L269.25 253.76L271.26 252.08L271.22 252.64L273.30 251.75ZM273.48 260.49L271.89 261.03L272.28 261.42L269.68 261.51L271.80 260.00L271.73 260.56L273.32 260.02ZM273.45 268.77L272.15 269.04L272.50 269.48L269.90 269.24L272.20 268.01L272.05 268.55L273.35 268.28ZM273.40 277.05L272.20 277.05L272.45 277.55L269.95 276.80L272.45 276.05L272.20 276.55L273.40 276.55ZM273.35 285.32L272.05 285.05L272.20 285.59L269.90 284.36L272.50 284.12L272.15 284.56L273.45 284.83ZM273.32 293.58L271.73 293.04L271.80 293.60L269.68 292.09L272.28 292.18L271.89 292.57L273.48 293.11ZM273.30 301.85L271.22 300.96L271.26 301.52L269.25 299.84L271.84 300.14L271.42 300.50L273.50 301.39ZM273.29 310.11L270.56 308.75L270.56 309.31L268.66 307.52L271.23 307.97L270.78 308.30L273.51 309.66ZM273.28 318.38L269.78 316.40L269.75 316.96L267.94 315.08L270.49 315.65L270.02 315.97L273.52 317.94ZM273.27 326.64L268.90 323.91L268.85 324.47L267.13 322.50L269.65 323.20L269.17 323.49L273.53 326.22ZM273.26 334.91L267.97 331.28L267.89 331.83L266.25 329.80L268.74 330.60L268.25 330.87L273.54 334.50ZM273.25 343.18L266.98 338.52L266.89 339.07L265.33 336.98L267.78 337.87L267.28 338.12L273.55 342.78ZM273.24 351.44L265.98 345.64L265.87 346.19L264.38 344.04L266.80 345.01L266.30 345.25L273.55 351.05ZM273.24 359.71L264.98 352.64L264.85 353.18L263.44 350.98L265.83 352.04L265.31 352.26L273.56 359.33ZM281.83 194.28L272.16 201.98L272.66 202.21L270.24 203.18L271.73 201.04L271.84 201.58L281.51 193.88ZM281.82 202.55L273.11 209.06L273.61 209.31L271.16 210.20L272.71 208.11L272.81 208.66L281.52 202.15ZM281.81 210.83L274.05 216.24L274.54 216.51L272.06 217.32L273.68 215.27L273.76 215.83L281.53 210.42ZM281.81 219.11L274.94 223.53L275.43 223.81L272.92 224.54L274.61 222.55L274.67 223.11L281.53 218.69ZM281.80 227.38L275.78 230.93L276.25 231.23L273.72 231.86L275.49 229.94L275.53 230.50L281.54 226.95ZM281.79 235.66L276.55 238.45L277.01 238.78L274.45 239.29L276.30 237.45L276.31 238.01L281.55 235.22ZM281.78 243.94L277.22 246.10L277.66 246.44L275.07 246.83L277.01 245.09L277.00 245.65L281.56 243.49ZM281.76 252.22L277.75 253.85L278.17 254.22L275.58 254.47L277.61 252.83L277.56 253.39L281.58 251.75ZM281.75 260.49L278.13 261.67L278.52 262.07L275.91 262.12L278.06 260.64L277.97 261.19L281.59 260.02ZM281.72 268.77L278.30 269.44L278.64 269.89L276.04 269.63L278.35 268.41L278.20 268.95L281.62 268.28ZM281.67 277.05L278.29 277.05L278.54 277.55L276.04 276.80L278.54 276.05L278.29 276.55L281.67 276.55ZM281.62 285.32L278.20 284.65L278.35 285.19L276.04 283.97L278.64 283.71L278.30 284.16L281.72 284.83ZM281.59 293.58L277.97 292.41L278.06 292.96L275.91 291.48L278.52 291.53L278.13 291.93L281.75 293.11ZM281.58 301.85L277.56 300.21L277.61 300.77L275.58 299.13L278.17 299.38L277.75 299.75L281.76 301.38ZM281.56 310.11L277.00 307.95L277.01 308.51L275.07 306.77L277.66 307.16L277.22 307.50L281.78 309.66ZM281.55 318.38L276.31 315.59L276.30 316.15L274.45 314.31L277.01 314.82L276.55 315.15L281.79 317.94ZM281.54 326.65L275.53 323.10L275.49 323.66L273.72 321.74L276.25 322.37L275.78 322.67L281.80 326.22ZM281.53 334.91L274.67 330.49L274.61 331.05L272.92 329.06L275.43 329.79L274.94 330.07L281.81 334.49ZM281.53 343.18L273.76 337.77L273.68 338.33L272.06 336.28L274.54 337.09L274.05 337.36L281.81 342.77ZM281.52 351.45L272.81 344.94L272.71 345.49L271.16 343.40L273.61 344.29L273.11 344.54L281.82 351.05ZM281.51 359.72L271.84 352.02L271.73 352.56L270.24 350.42L272.66 351.39L272.16 351.62L281.83 359.32Z" fill="#e6e6e6"/>
<path d="M274.15 276.80L236.55 341.93L161.35 341.93L123.75 276.80L161.35 211.67L236.55 211.67Z" fill="none" stroke="#5a5a5a" stroke-width="3.3" stroke-linejoin="round"/>
<circle cx="274.15" cy="276.80" r="5.85" fill="#000" stroke="#fff" stroke-width="1.3"/>
<circle cx="236.55" cy="341.93" r="5.85" fill="#000" stroke="#fff" stroke-width="1.3"/>
<circle cx="161.35" cy="341.93" r="5.85" fill="#000" stroke="#fff" stroke-width="1.3"/>
<circle cx="123.75" cy="276.80" r="5.85" fill="#000" stroke="#fff" stroke-width="1.3"/>
<circle cx="161.35" cy="211.67" r="5.85" fill="#000" stroke="#fff" stroke-width="1.3"/>
<circle cx="236.55" cy="211.67" r="5.85" fill="#000" stroke="#fff" stroke-width="1.3"/>
<path d="M170.78 295.55L236.59 341.97" fill="none" stroke="#e8a919" stroke-width="3.20" stroke-linejoin="round"/>
<path d="M170.78 295.55C171.11 295.57 172.11 295.65 172.77 295.69C173.43 295.73 174.09 295.76 174.76 295.79C175.42 295.81 176.08 295.83 176.74 295.85C177.41 295.86 178.07 295.87 178.73 295.87C179.39 295.88 180.06 295.88 180.72 295.88C181.38 295.87 182.04 295.86 182.70 295.86C183.37 295.85 184.03 295.84 184.69 295.83C185.35 295.82 186.02 295.81 186.68 295.81C187.34 295.80 188.00 295.80 188.67 295.81C189.33 295.82 189.99 295.82 190.65 295.85C191.31 295.87 191.98 295.90 192.64 295.96C193.30 296.02 193.96 296.09 194.63 296.21C195.29 296.33 196.16 296.57 196.61 296.70C197.06 296.82 197.09 296.85 197.33 296.94C197.58 297.03 197.82 297.13 198.06 297.23C198.30 297.33 198.54 297.43 198.78 297.55C199.02 297.66 199.26 297.78 199.50 297.90C199.74 298.02 199.98 298.15 200.22 298.29C200.46 298.42 200.70 298.56 200.94 298.71C201.18 298.85 201.42 299.01 201.66 299.17C201.90 299.33 202.14 299.50 202.38 299.67C202.62 299.85 202.86 300.03 203.10 300.23C203.34 300.42 203.58 300.62 203.82 300.84C204.07 301.05 204.31 301.27 204.55 301.50C204.79 301.73 205.03 301.96 205.27 302.21C205.51 302.45 205.75 302.70 205.99 302.95C206.23 303.20 206.47 303.46 206.71 303.72C206.95 303.98 207.19 304.25 207.43 304.51C207.67 304.78 207.91 305.05 208.15 305.32C208.39 305.59 208.63 305.86 208.87 306.13C209.11 306.40 209.35 306.67 209.59 306.94C209.83 307.22 210.07 307.49 210.32 307.77C210.56 308.04 210.80 308.31 211.04 308.59C211.28 308.86 211.26 308.85 211.76 309.41C212.25 309.98 213.26 311.13 214.02 311.99C214.77 312.85 215.52 313.70 216.27 314.56C217.03 315.43 217.78 316.29 218.53 317.19C219.28 318.08 220.04 318.98 220.79 319.91C221.54 320.84 222.29 321.79 223.05 322.79C223.80 323.78 224.55 324.80 225.30 325.87C226.06 326.95 226.81 328.06 227.56 329.23C228.31 330.41 229.07 331.65 229.82 332.93C230.57 334.20 231.33 335.67 232.08 336.90C232.83 338.12 233.58 339.45 234.34 340.29C235.09 341.14 236.22 341.69 236.59 341.97" fill="none" stroke="#67bceb" stroke-width="3.00" stroke-linejoin="round"/>
<path d="M170.78 295.55C171.11 295.57 172.11 295.71 172.77 295.72C173.43 295.73 174.09 295.68 174.76 295.61C175.42 295.55 176.08 295.43 176.74 295.32C177.41 295.20 178.07 295.05 178.73 294.91C179.39 294.77 180.06 294.61 180.72 294.47C181.38 294.33 182.04 294.19 182.70 294.07C183.37 293.95 184.03 293.85 184.69 293.75C185.35 293.66 186.02 293.57 186.68 293.49C187.34 293.41 188.00 293.34 188.67 293.27C189.33 293.21 189.99 293.14 190.65 293.09C191.31 293.04 191.98 292.97 192.64 292.96C193.30 292.95 193.96 292.94 194.63 293.02C195.29 293.09 196.16 293.30 196.61 293.41C197.06 293.52 197.09 293.57 197.33 293.67C197.58 293.76 197.82 293.86 198.06 293.97C198.30 294.08 198.54 294.20 198.78 294.32C199.02 294.45 199.26 294.58 199.50 294.72C199.74 294.86 199.98 295.01 200.22 295.16C200.46 295.31 200.70 295.47 200.94 295.63C201.18 295.80 201.42 295.97 201.66 296.15C201.90 296.33 202.14 296.52 202.38 296.72C202.62 296.92 202.86 297.13 203.10 297.34C203.34 297.56 203.58 297.79 203.82 298.02C204.07 298.26 204.31 298.51 204.55 298.76C204.79 299.02 205.03 299.28 205.27 299.55C205.51 299.82 205.75 300.09 205.99 300.37C206.23 300.65 206.47 300.94 206.71 301.22C206.95 301.50 207.19 301.79 207.43 302.08C207.67 302.37 207.91 302.66 208.15 302.95C208.39 303.23 208.63 303.52 208.87 303.81C209.11 304.10 209.35 304.39 209.59 304.68C209.83 304.97 210.07 305.26 210.32 305.55C210.56 305.84 210.80 306.13 211.04 306.42C211.28 306.71 211.26 306.69 211.76 307.29C212.25 307.89 213.26 309.10 214.02 310.01C214.77 310.92 215.52 311.83 216.27 312.76C217.03 313.68 217.78 314.61 218.53 315.57C219.28 316.53 220.04 317.50 220.79 318.51C221.54 319.52 222.29 320.55 223.05 321.62C223.80 322.69 224.55 323.80 225.30 324.94C226.06 326.08 226.81 327.25 227.56 328.46C228.31 329.67 229.07 330.92 229.82 332.19C230.57 333.46 231.33 334.83 232.08 336.05C232.83 337.28 233.58 338.56 234.34 339.54C235.09 340.53 236.22 341.57 236.59 341.97" fill="none" stroke="#19a881" stroke-width="3.00" stroke-linejoin="round"/>
<path d="M170.78 295.55C171.11 295.58 172.11 295.72 172.77 295.73C173.43 295.73 174.09 295.67 174.76 295.58C175.42 295.50 176.08 295.36 176.74 295.21C177.41 295.07 178.07 294.89 178.73 294.72C179.39 294.55 180.06 294.35 180.72 294.19C181.38 294.02 182.04 293.86 182.70 293.72C183.37 293.58 184.03 293.46 184.69 293.35C185.35 293.23 186.02 293.14 186.68 293.05C187.34 292.96 188.00 292.88 188.67 292.80C189.33 292.73 189.99 292.66 190.65 292.60C191.31 292.54 191.98 292.47 192.64 292.45C193.30 292.42 193.96 292.40 194.63 292.45C195.29 292.49 196.16 292.64 196.61 292.72C197.06 292.80 197.09 292.84 197.33 292.91C197.58 292.98 197.82 293.06 198.06 293.14C198.30 293.23 198.54 293.33 198.78 293.44C199.02 293.54 199.26 293.66 199.50 293.78C199.74 293.90 199.98 294.04 200.22 294.18C200.46 294.32 200.70 294.48 200.94 294.64C201.18 294.80 201.42 294.97 201.66 295.15C201.90 295.33 202.14 295.52 202.38 295.72C202.62 295.92 202.86 296.13 203.10 296.35C203.34 296.57 203.58 296.80 203.82 297.04C204.07 297.28 204.31 297.53 204.55 297.79C204.79 298.05 205.03 298.31 205.27 298.58C205.51 298.85 205.75 299.13 205.99 299.41C206.23 299.69 206.47 299.98 206.71 300.27C206.95 300.55 207.19 300.84 207.43 301.13C207.67 301.42 207.91 301.71 208.15 302.01C208.39 302.30 208.63 302.59 208.87 302.88C209.11 303.18 209.35 303.47 209.59 303.76C209.83 304.06 210.07 304.35 210.32 304.65C210.56 304.94 210.80 305.24 211.04 305.53C211.28 305.83 211.26 305.81 211.76 306.42C212.25 307.03 213.26 308.27 214.02 309.21C214.77 310.15 215.52 311.08 216.27 312.03C217.03 312.99 217.78 313.95 218.53 314.93C219.28 315.91 220.04 316.91 220.79 317.93C221.54 318.95 222.29 319.99 223.05 321.07C223.80 322.14 224.55 323.24 225.30 324.38C226.06 325.52 226.81 326.68 227.56 327.89C228.31 329.10 229.07 330.35 229.82 331.62C230.57 332.89 231.33 334.27 232.08 335.53C232.83 336.79 233.58 338.10 234.34 339.18C235.09 340.25 236.22 341.51 236.59 341.97" fill="none" stroke="#f2e755" stroke-width="3.00" stroke-linejoin="round"/>
<path d="M170.78 295.55C171.11 295.53 172.11 295.52 172.77 295.45C173.43 295.38 174.09 295.27 174.76 295.14C175.42 295.01 176.08 294.84 176.74 294.68C177.41 294.51 178.07 294.31 178.73 294.13C179.39 293.94 180.06 293.74 180.72 293.55C181.38 293.37 182.04 293.19 182.70 293.02C183.37 292.85 184.03 292.70 184.69 292.54C185.35 292.39 186.02 292.25 186.68 292.12C187.34 291.98 188.00 291.85 188.67 291.72C189.33 291.60 189.99 291.47 190.65 291.35C191.31 291.24 191.98 291.11 192.64 291.01C193.30 290.91 193.96 290.80 194.63 290.73C195.29 290.65 196.16 290.59 196.61 290.56C197.06 290.53 197.09 290.55 197.33 290.55C197.58 290.55 197.82 290.56 198.06 290.59C198.30 290.61 198.54 290.64 198.78 290.69C199.02 290.74 199.26 290.80 199.50 290.88C199.74 290.96 199.98 291.06 200.22 291.17C200.46 291.28 200.70 291.42 200.94 291.57C201.18 291.72 201.42 291.88 201.66 292.06C201.90 292.24 202.14 292.44 202.38 292.65C202.62 292.86 202.86 293.08 203.10 293.31C203.34 293.55 203.58 293.80 203.82 294.05C204.07 294.31 204.31 294.57 204.55 294.85C204.79 295.12 205.03 295.41 205.27 295.70C205.51 295.98 205.75 296.28 205.99 296.58C206.23 296.88 206.47 297.18 206.71 297.49C206.95 297.79 207.19 298.10 207.43 298.40C207.67 298.71 207.91 299.02 208.15 299.33C208.39 299.63 208.63 299.94 208.87 300.25C209.11 300.56 209.35 300.86 209.59 301.17C209.83 301.48 210.07 301.79 210.32 302.10C210.56 302.40 210.80 302.71 211.04 303.02C211.28 303.33 211.26 303.31 211.76 303.95C212.25 304.60 213.26 305.91 214.02 306.90C214.77 307.89 215.52 308.88 216.27 309.90C217.03 310.92 217.78 311.94 218.53 312.99C219.28 314.04 220.04 315.11 220.79 316.20C221.54 317.30 222.29 318.41 223.05 319.56C223.80 320.71 224.55 321.88 225.30 323.08C226.06 324.27 226.81 325.50 227.56 326.74C228.31 327.99 229.07 329.26 229.82 330.55C230.57 331.83 231.33 333.16 232.08 334.46C232.83 335.75 233.58 337.07 234.34 338.33C235.09 339.58 236.22 341.37 236.59 341.97" fill="none" stroke="#1980ba" stroke-width="3.00" stroke-linejoin="round"/>
<path d="M170.78 295.55C171.11 295.48 172.11 295.27 172.77 295.12C173.43 294.97 174.09 294.80 174.76 294.63C175.42 294.45 176.08 294.27 176.74 294.08C177.41 293.89 178.07 293.69 178.73 293.49C179.39 293.29 180.06 293.09 180.72 292.89C181.38 292.68 182.04 292.47 182.70 292.27C183.37 292.08 184.03 291.87 184.69 291.69C185.35 291.51 186.02 291.33 186.68 291.17C187.34 291.02 188.00 290.88 188.67 290.77C189.33 290.66 189.99 290.56 190.65 290.51C191.31 290.45 191.98 290.43 192.64 290.44C193.30 290.45 193.96 290.50 194.63 290.59C195.29 290.68 196.16 290.88 196.61 290.98C197.06 291.08 197.09 291.12 197.33 291.19C197.58 291.27 197.82 291.36 198.06 291.45C198.30 291.55 198.54 291.65 198.78 291.77C199.02 291.88 199.26 292.00 199.50 292.14C199.74 292.28 199.98 292.42 200.22 292.58C200.46 292.74 200.70 292.91 200.94 293.09C201.18 293.27 201.42 293.46 201.66 293.66C201.90 293.86 202.14 294.08 202.38 294.30C202.62 294.52 202.86 294.76 203.10 295.00C203.34 295.24 203.58 295.49 203.82 295.75C204.07 296.02 204.31 296.29 204.55 296.56C204.79 296.84 205.03 297.13 205.27 297.42C205.51 297.71 205.75 298.01 205.99 298.31C206.23 298.61 206.47 298.91 206.71 299.22C206.95 299.53 207.19 299.84 207.43 300.15C207.67 300.46 207.91 300.77 208.15 301.08C208.39 301.40 208.63 301.71 208.87 302.03C209.11 302.34 209.35 302.66 209.59 302.97C209.83 303.29 210.07 303.60 210.32 303.92C210.56 304.23 210.80 304.55 211.04 304.86C211.28 305.18 211.26 305.16 211.76 305.81C212.25 306.46 213.26 307.77 214.02 308.75C214.77 309.72 215.52 310.68 216.27 311.66C217.03 312.64 217.78 313.61 218.53 314.60C219.28 315.59 220.04 316.59 220.79 317.62C221.54 318.65 222.29 319.70 223.05 320.77C223.80 321.85 224.55 322.96 225.30 324.09C226.06 325.23 226.81 326.39 227.56 327.59C228.31 328.78 229.07 330.01 229.82 331.25C230.57 332.50 231.33 333.80 232.08 335.05C232.83 336.30 233.58 337.58 234.34 338.74C235.09 339.89 236.22 341.43 236.59 341.97" fill="none" stroke="#CC79A7" stroke-width="4.17" stroke-linejoin="round"/>
<circle cx="170.78" cy="295.55" r="4.5" fill="#808080"/>
<path d="M236.59 333.37L238.52 339.32L244.77 339.32L239.72 342.99L241.65 348.93L236.59 345.26L231.54 348.93L233.47 342.99L228.41 339.32L234.66 339.32Z" fill="#ff0000" stroke="#8b0000" stroke-width="1.5" stroke-miterlimit="10"/>
</g>
<rect x="105.00" y="182.60" width="187.85" height="187.90" fill="none" stroke="#000" stroke-width="2.4"/>
<rect x="33.4" y="10.9" width="581" height="71.1" fill="#fff" stroke="#000" stroke-width="1.4"/>
<g style="opacity:0.996;will-change:opacity">
<line x1="39.70" y1="23.00" x2="70.10" y2="23.00" stroke="#CC79A7" stroke-width="4.17" stroke-linecap="square"/>
<text x="82.20" y="28.70">Global optimum</text>
<line x1="39.40" y1="45.60" x2="70.40" y2="45.60" stroke="#e8a919" stroke-width="2.90" stroke-linecap="square"/>
<text x="82.20" y="49.90">MPC-RHC<tspan class="i" x="165.70">K</tspan><tspan class="m" x="178.90">=</tspan><tspan class="m" x="194.40">1</tspan></text>
<line x1="39.40" y1="68.20" x2="70.40" y2="68.20" stroke="#67bceb" stroke-width="2.90" stroke-linecap="square"/>
<text x="82.20" y="72.50">MPC-RHC<tspan class="i" x="165.70">K</tspan><tspan class="m" x="178.90">=</tspan><tspan class="m" x="194.40">2</tspan></text>
<line x1="236.20" y1="23.30" x2="267.20" y2="23.30" stroke="#19a881" stroke-width="2.90" stroke-linecap="square"/>
<text x="279.20" y="27.80">MPC-RHC<tspan class="i" x="362.70">K</tspan><tspan class="m" x="375.90">=</tspan><tspan class="m" x="391.40">3</tspan></text>
<line x1="236.20" y1="45.20" x2="267.20" y2="45.20" stroke="#f2e755" stroke-width="2.90" stroke-linecap="square"/>
<text x="279.20" y="49.90">MPC-RHC<tspan class="i" x="362.70">K</tspan><tspan class="m" x="375.90">=</tspan><tspan class="m" x="391.40">4</tspan></text>
<line x1="433.00" y1="23.30" x2="464.00" y2="23.30" stroke="#1980ba" stroke-width="2.90" stroke-linecap="square"/>
<text x="476.10" y="28.20">MPC-RHC<tspan class="i" x="559.60">K</tspan><tspan class="m" x="572.80">=</tspan><tspan class="m" x="588.30">10</tspan></text>
<path d="M448.30 38.40L450.23 44.34L456.48 44.34L451.42 48.02L453.35 53.96L448.30 50.28L443.25 53.96L445.18 48.02L440.12 44.34L446.37 44.34Z" fill="#ff0000" stroke="#8b0000" stroke-width="1.5" stroke-miterlimit="10"/>
<text x="476.80" y="51.00">Target</text>
</g>
</svg></body></html>
